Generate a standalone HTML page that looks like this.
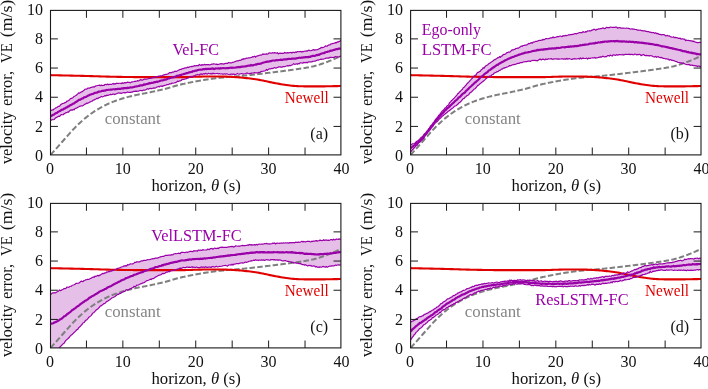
<!DOCTYPE html>
<html><head><meta charset="utf-8"><title>Velocity error vs horizon</title>
<style>html,body{margin:0;padding:0;background:#fff}svg{display:block}</style></head>
<body>
<svg width="708" height="389" viewBox="0 0 708 389">
<rect width="708" height="389" fill="#fff"/>
<defs>
<clipPath id="cpa"><rect x="50.5" y="10.4" width="290.4" height="144.5"/></clipPath>
<clipPath id="cpb"><rect x="410.6" y="10.4" width="290.4" height="144.5"/></clipPath>
<clipPath id="cpc"><rect x="50.5" y="203.4" width="290.4" height="144.5"/></clipPath>
<clipPath id="cpd"><rect x="410.6" y="203.4" width="290.4" height="144.5"/></clipPath>
</defs>
<g clip-path="url(#cpa)" fill="none" stroke-linejoin="round">
<path d="M50.50,110.45 L51.41,110.32 L52.31,109.89 L53.22,109.93 L54.13,108.95 L55.04,108.44 L55.95,107.83 L56.85,107.46 L57.76,106.76 L58.67,106.35 L59.58,106.06 L60.48,104.89 L61.39,104.35 L62.30,103.58 L63.20,103.52 L64.11,103.11 L65.02,102.60 L65.93,102.34 L66.84,101.06 L67.74,101.10 L68.65,100.55 L69.56,99.69 L70.47,98.62 L71.37,98.38 L72.28,98.14 L73.19,97.43 L74.09,96.41 L75.00,96.01 L75.91,95.55 L76.82,94.76 L77.72,93.84 L78.63,92.86 L79.54,93.17 L80.45,92.40 L81.36,91.87 L82.26,91.77 L83.17,90.81 L84.08,90.33 L84.98,89.24 L85.89,89.17 L86.80,89.19 L87.71,88.17 L88.62,88.12 L89.52,88.21 L90.43,87.60 L91.34,87.34 L92.25,87.19 L93.15,86.71 L94.06,87.17 L94.97,86.41 L95.88,85.87 L96.78,85.75 L97.69,85.52 L98.60,85.37 L99.50,85.12 L100.41,85.74 L101.32,85.05 L102.23,85.71 L103.13,85.23 L104.04,85.49 L104.95,84.53 L105.86,84.34 L106.77,84.69 L107.67,84.03 L108.58,84.64 L109.49,84.32 L110.39,84.23 L111.30,84.50 L112.21,83.99 L113.12,83.47 L114.03,84.25 L114.93,83.61 L115.84,83.83 L116.75,83.19 L117.66,83.47 L118.56,83.33 L119.47,83.24 L120.38,83.26 L121.28,83.63 L122.19,82.72 L123.10,83.41 L124.01,82.84 L124.91,82.62 L125.82,82.92 L126.73,82.52 L127.64,82.10 L128.55,82.32 L129.45,82.44 L130.36,82.89 L131.27,82.19 L132.18,81.94 L133.08,81.77 L133.99,81.75 L134.90,81.21 L135.81,81.32 L136.71,81.02 L137.62,80.62 L138.53,80.89 L139.44,80.55 L140.34,79.66 L141.25,79.85 L142.16,80.29 L143.06,79.75 L143.97,79.37 L144.88,78.99 L145.79,79.12 L146.69,79.13 L147.60,79.00 L148.51,78.42 L149.42,78.32 L150.32,78.38 L151.23,78.10 L152.14,77.97 L153.05,77.45 L153.95,77.66 L154.86,77.13 L155.77,76.82 L156.68,76.71 L157.58,76.88 L158.49,76.03 L159.40,76.38 L160.31,75.83 L161.22,75.93 L162.12,75.96 L163.03,75.14 L163.94,74.85 L164.84,74.69 L165.75,74.31 L166.66,74.30 L167.57,74.04 L168.47,73.59 L169.38,72.70 L170.29,72.72 L171.20,72.81 L172.10,72.20 L173.01,72.20 L173.92,71.89 L174.83,71.20 L175.74,71.30 L176.64,71.32 L177.55,70.78 L178.46,70.18 L179.37,69.86 L180.27,69.23 L181.18,69.50 L182.09,68.78 L183.00,68.58 L183.90,68.47 L184.81,67.91 L185.72,67.75 L186.62,67.90 L187.53,67.10 L188.44,67.54 L189.35,66.96 L190.25,66.77 L191.16,66.45 L192.07,66.59 L192.98,66.21 L193.88,66.07 L194.79,65.57 L195.70,65.94 L196.61,65.54 L197.51,65.50 L198.42,65.68 L199.33,64.42 L200.24,65.11 L201.14,65.42 L202.05,64.50 L202.96,65.14 L203.87,64.66 L204.78,64.45 L205.68,64.83 L206.59,64.72 L207.50,64.70 L208.41,64.54 L209.31,64.93 L210.22,64.77 L211.13,64.41 L212.03,64.03 L212.94,64.11 L213.85,63.74 L214.76,64.00 L215.66,64.30 L216.57,64.14 L217.48,64.64 L218.39,64.28 L219.29,64.24 L220.20,63.81 L221.11,63.65 L222.02,63.94 L222.92,63.88 L223.83,64.09 L224.74,63.61 L225.65,63.42 L226.56,63.27 L227.46,63.52 L228.37,62.61 L229.28,62.71 L230.19,62.93 L231.09,62.89 L232.00,62.65 L232.91,62.30 L233.81,62.13 L234.72,61.74 L235.63,61.39 L236.54,60.95 L237.44,60.73 L238.35,60.81 L239.26,60.38 L240.17,60.32 L241.07,60.10 L241.98,59.11 L242.89,59.53 L243.80,58.57 L244.70,59.01 L245.61,58.60 L246.52,58.14 L247.43,58.23 L248.34,57.91 L249.24,57.89 L250.15,57.75 L251.06,57.46 L251.97,57.40 L252.87,56.55 L253.78,56.87 L254.69,56.12 L255.59,57.19 L256.50,56.21 L257.41,55.84 L258.32,55.87 L259.23,55.25 L260.13,55.16 L261.04,55.20 L261.95,54.78 L262.86,53.87 L263.76,54.40 L264.67,54.18 L265.58,54.21 L266.49,53.87 L267.39,54.12 L268.30,53.67 L269.21,52.79 L270.12,53.10 L271.02,53.16 L271.93,52.97 L272.84,52.70 L273.75,53.05 L274.65,52.60 L275.56,52.88 L276.47,53.13 L277.38,52.68 L278.28,53.86 L279.19,53.34 L280.10,53.09 L281.00,53.43 L281.91,53.21 L282.82,53.34 L283.73,53.33 L284.63,52.34 L285.54,52.92 L286.45,53.08 L287.36,52.64 L288.26,53.04 L289.17,52.65 L290.08,52.73 L290.99,52.28 L291.89,53.07 L292.80,52.34 L293.71,52.42 L294.62,52.68 L295.52,51.93 L296.43,52.38 L297.34,51.55 L298.25,51.77 L299.15,51.61 L300.06,51.69 L300.97,51.36 L301.88,52.07 L302.78,51.42 L303.69,51.54 L304.60,51.19 L305.51,51.20 L306.41,50.92 L307.32,51.25 L308.23,50.38 L309.14,50.14 L310.05,50.75 L310.95,50.58 L311.86,50.35 L312.77,49.92 L313.68,49.57 L314.58,50.27 L315.49,49.89 L316.40,49.79 L317.31,49.55 L318.21,49.43 L319.12,48.56 L320.03,48.69 L320.94,47.60 L321.84,47.43 L322.75,47.65 L323.66,47.31 L324.56,46.84 L325.47,45.91 L326.38,46.21 L327.29,46.05 L328.19,45.29 L329.10,44.83 L330.01,44.79 L330.92,43.80 L331.82,43.86 L332.73,43.47 L333.64,43.52 L334.55,42.95 L335.45,42.65 L336.36,42.93 L337.27,41.86 L338.18,42.12 L339.08,41.28 L339.99,41.36 L340.90,40.01 L340.90,56.04 L339.99,56.42 L339.08,56.83 L338.18,57.00 L337.27,56.85 L336.36,56.78 L335.45,56.49 L334.55,57.28 L333.64,57.27 L332.73,57.50 L331.82,57.31 L330.92,57.66 L330.01,57.31 L329.10,58.11 L328.19,57.93 L327.29,58.27 L326.38,58.05 L325.47,58.35 L324.56,58.71 L323.66,59.04 L322.75,59.20 L321.84,59.30 L320.94,59.14 L320.03,59.45 L319.12,59.81 L318.21,60.18 L317.31,60.16 L316.40,60.48 L315.49,61.10 L314.58,61.13 L313.68,61.25 L312.77,61.30 L311.86,61.92 L310.95,61.75 L310.05,61.84 L309.14,61.79 L308.23,62.09 L307.32,62.83 L306.41,62.30 L305.51,62.56 L304.60,62.64 L303.69,62.36 L302.78,63.21 L301.88,62.97 L300.97,62.84 L300.06,62.94 L299.15,63.92 L298.25,63.51 L297.34,64.29 L296.43,63.79 L295.52,64.12 L294.62,64.37 L293.71,63.68 L292.80,64.39 L291.89,65.05 L290.99,65.34 L290.08,65.75 L289.17,65.43 L288.26,66.06 L287.36,65.65 L286.45,66.03 L285.54,66.27 L284.63,66.76 L283.73,66.47 L282.82,66.66 L281.91,67.19 L281.00,67.20 L280.10,66.94 L279.19,66.88 L278.28,67.11 L277.38,67.49 L276.47,67.91 L275.56,68.11 L274.65,67.55 L273.75,67.97 L272.84,68.62 L271.93,68.27 L271.02,68.79 L270.12,68.89 L269.21,68.95 L268.30,69.38 L267.39,70.33 L266.49,69.44 L265.58,70.53 L264.67,71.01 L263.76,71.10 L262.86,71.25 L261.95,71.35 L261.04,71.47 L260.13,72.44 L259.23,72.42 L258.32,72.61 L257.41,72.95 L256.50,72.96 L255.59,72.84 L254.69,72.53 L253.78,72.96 L252.87,73.00 L251.97,73.09 L251.06,73.39 L250.15,73.41 L249.24,73.62 L248.34,73.74 L247.43,72.99 L246.52,73.19 L245.61,73.59 L244.70,73.73 L243.80,74.04 L242.89,73.97 L241.98,73.63 L241.07,73.74 L240.17,73.81 L239.26,74.31 L238.35,73.93 L237.44,73.45 L236.54,74.08 L235.63,74.50 L234.72,74.67 L233.81,73.89 L232.91,74.44 L232.00,74.20 L231.09,74.13 L230.19,74.40 L229.28,74.74 L228.37,74.46 L227.46,74.01 L226.56,73.77 L225.65,74.11 L224.74,73.74 L223.83,74.20 L222.92,74.20 L222.02,73.93 L221.11,74.01 L220.20,73.85 L219.29,73.49 L218.39,73.92 L217.48,73.40 L216.57,73.50 L215.66,73.73 L214.76,73.52 L213.85,73.84 L212.94,73.08 L212.03,74.18 L211.13,73.38 L210.22,73.84 L209.31,73.59 L208.41,73.30 L207.50,74.04 L206.59,73.87 L205.68,73.30 L204.78,74.18 L203.87,73.58 L202.96,73.96 L202.05,74.52 L201.14,73.85 L200.24,74.05 L199.33,75.00 L198.42,74.75 L197.51,74.63 L196.61,74.91 L195.70,75.06 L194.79,75.84 L193.88,75.87 L192.98,76.54 L192.07,76.49 L191.16,76.61 L190.25,76.89 L189.35,77.28 L188.44,77.96 L187.53,78.28 L186.62,78.56 L185.72,78.90 L184.81,78.98 L183.90,79.49 L183.00,79.38 L182.09,79.54 L181.18,80.48 L180.27,80.96 L179.37,80.97 L178.46,81.56 L177.55,81.08 L176.64,82.10 L175.74,82.67 L174.83,82.71 L173.92,83.03 L173.01,83.26 L172.10,83.05 L171.20,83.81 L170.29,83.89 L169.38,83.94 L168.47,84.56 L167.57,84.66 L166.66,84.63 L165.75,85.24 L164.84,85.30 L163.94,85.78 L163.03,85.69 L162.12,86.52 L161.22,86.16 L160.31,86.02 L159.40,86.87 L158.49,86.45 L157.58,86.81 L156.68,87.07 L155.77,87.67 L154.86,88.22 L153.95,87.89 L153.05,88.14 L152.14,88.32 L151.23,88.83 L150.32,88.33 L149.42,88.56 L148.51,89.17 L147.60,88.72 L146.69,89.11 L145.79,89.79 L144.88,90.18 L143.97,90.13 L143.06,90.18 L142.16,90.82 L141.25,90.47 L140.34,90.28 L139.44,90.80 L138.53,91.09 L137.62,91.03 L136.71,91.43 L135.81,91.10 L134.90,91.38 L133.99,91.42 L133.08,91.61 L132.18,92.16 L131.27,92.19 L130.36,92.39 L129.45,92.45 L128.55,92.31 L127.64,91.94 L126.73,92.33 L125.82,92.59 L124.91,93.00 L124.01,92.47 L123.10,92.70 L122.19,92.99 L121.28,93.39 L120.38,93.18 L119.47,93.11 L118.56,92.82 L117.66,93.20 L116.75,93.60 L115.84,93.86 L114.93,94.63 L114.03,94.05 L113.12,94.11 L112.21,94.37 L111.30,94.55 L110.39,94.41 L109.49,94.78 L108.58,95.17 L107.67,95.39 L106.77,95.18 L105.86,95.97 L104.95,95.58 L104.04,96.19 L103.13,96.56 L102.23,96.81 L101.32,96.46 L100.41,97.08 L99.50,97.64 L98.60,97.76 L97.69,98.72 L96.78,98.30 L95.88,99.18 L94.97,99.28 L94.06,100.14 L93.15,100.08 L92.25,101.09 L91.34,101.22 L90.43,101.86 L89.52,102.15 L88.62,102.71 L87.71,103.30 L86.80,103.03 L85.89,103.86 L84.98,104.17 L84.08,104.79 L83.17,105.38 L82.26,106.00 L81.36,105.76 L80.45,106.18 L79.54,106.34 L78.63,106.96 L77.72,107.29 L76.82,108.08 L75.91,108.20 L75.00,108.50 L74.09,109.85 L73.19,109.31 L72.28,110.25 L71.37,109.85 L70.47,110.18 L69.56,110.82 L68.65,112.14 L67.74,111.90 L66.84,112.62 L65.93,112.68 L65.02,113.38 L64.11,113.76 L63.20,114.73 L62.30,114.77 L61.39,114.49 L60.48,115.44 L59.58,116.42 L58.67,116.19 L57.76,116.70 L56.85,117.38 L55.95,117.62 L55.04,118.46 L54.13,119.51 L53.22,119.72 L52.31,119.56 L51.41,120.07 L50.50,120.71Z" fill="#9a00a8" fill-opacity="0.25" stroke="none"/>
<path d="M50.50,154.88 L51.30,154.01 L52.17,153.07 L53.04,152.11 L53.91,151.16 L54.35,150.68M56.02,148.82 L56.89,147.84 L57.76,146.86 L58.63,145.88 L59.50,144.89 L59.80,144.55M61.45,142.67 L62.26,141.74 L63.14,140.75 L64.01,139.75 L64.88,138.76 L65.21,138.39M66.86,136.51 L67.71,135.54 L68.58,134.56 L69.45,133.59 L70.32,132.62 L70.66,132.26M72.35,130.42 L73.16,129.56 L74.03,128.64 L74.90,127.74 L75.77,126.85 L76.30,126.31M78.08,124.56 L78.89,123.79 L79.77,122.96 L80.64,122.16 L81.51,121.37 L82.27,120.70M84.15,119.07 L84.99,118.36 L85.87,117.65 L86.74,116.95 L87.61,116.27 L88.48,115.59 L88.58,115.51M90.56,114.04 L91.38,113.45 L92.26,112.83 L93.13,112.24 L94.00,111.65 L94.87,111.08 L95.23,110.84M97.29,109.55 L98.14,109.04 L99.01,108.53 L99.88,108.03 L100.75,107.54 L101.62,107.06 L102.19,106.76M104.34,105.66 L105.18,105.24 L106.05,104.82 L106.92,104.41 L107.80,104.01 L108.67,103.61 L109.43,103.28M111.62,102.35 L112.44,102.02 L113.31,101.67 L114.19,101.34 L115.06,101.01 L115.93,100.69 L116.80,100.38 L116.85,100.37M119.08,99.61 L119.92,99.33 L120.79,99.06 L121.67,98.78 L122.54,98.52 L123.41,98.26 L124.28,98.00 L124.41,97.96M126.64,97.33 L127.48,97.10 L128.35,96.87 L129.22,96.64 L130.09,96.42 L130.96,96.20 L131.83,95.99 L132.04,95.94M134.28,95.42 L135.10,95.25 L135.97,95.06 L136.84,94.88 L137.71,94.70 L138.59,94.52 L139.46,94.35 L139.72,94.30M141.96,93.87 L142.80,93.71 L143.67,93.54 L144.54,93.38 L145.41,93.21 L146.28,93.04 L147.15,92.87 L147.41,92.82M149.64,92.37 L150.50,92.20 L151.37,92.01 L152.24,91.83 L153.11,91.64 L153.98,91.46 L154.85,91.27 L155.07,91.22M157.29,90.72 L158.12,90.53 L158.99,90.34 L159.86,90.13 L160.73,89.93 L161.61,89.72 L162.48,89.51 L162.70,89.46M164.92,88.91 L165.75,88.69 L166.62,88.47 L167.49,88.23 L168.36,87.99 L169.23,87.75 L170.10,87.50 L170.29,87.45M172.49,86.81 L173.30,86.58 L174.17,86.32 L175.04,86.07 L175.91,85.82 L176.78,85.57 L177.65,85.33 L177.85,85.28M180.09,84.69 L180.92,84.48 L181.79,84.27 L182.67,84.06 L183.54,83.86 L184.41,83.67 L185.28,83.48 L185.50,83.43M187.75,82.96 L188.62,82.79 L189.49,82.61 L190.36,82.44 L191.23,82.27 L192.11,82.11 L192.98,81.94 L193.20,81.90M195.44,81.49 L196.24,81.34 L197.12,81.19 L197.99,81.03 L198.86,80.88 L199.73,80.72 L200.60,80.57 L200.90,80.52M203.13,80.13 L203.94,79.99 L204.81,79.85 L205.68,79.70 L206.56,79.56 L207.43,79.42 L208.30,79.28 L208.60,79.23M210.84,78.90 L211.71,78.77 L212.58,78.65 L213.46,78.53 L214.33,78.42 L215.20,78.31 L216.07,78.20 L216.33,78.17M218.57,77.92 L219.41,77.83 L220.28,77.74 L221.15,77.65 L222.02,77.57 L222.90,77.49 L223.77,77.41 L224.07,77.38M226.31,77.18 L227.11,77.12 L227.98,77.04 L228.85,76.97 L229.72,76.90 L230.59,76.83 L231.46,76.76 L231.81,76.73M234.03,76.55 L234.88,76.48 L235.75,76.41 L236.62,76.34 L237.49,76.26 L238.36,76.19 L239.23,76.11 L239.54,76.08M241.76,75.88 L242.58,75.80 L243.45,75.72 L244.32,75.63 L245.19,75.54 L246.06,75.45 L246.93,75.36 L247.25,75.33M249.48,75.09 L250.35,75.00 L251.22,74.90 L252.09,74.80 L252.96,74.71 L253.83,74.61 L254.70,74.51 L254.97,74.48M257.20,74.22 L258.04,74.12 L258.91,74.02 L259.79,73.92 L260.66,73.82 L261.53,73.71 L262.40,73.61 L262.69,73.57M264.92,73.30 L265.74,73.20 L266.61,73.10 L267.48,72.99 L268.35,72.88 L269.23,72.78 L270.10,72.67 L270.41,72.63M272.64,72.36 L273.44,72.26 L274.31,72.15 L275.18,72.04 L276.05,71.93 L276.92,71.83 L277.79,71.72 L278.12,71.68M280.35,71.39 L281.21,71.29 L282.08,71.18 L282.95,71.06 L283.82,70.95 L284.69,70.84 L285.56,70.73 L285.84,70.69M288.07,70.39 L288.91,70.28 L289.78,70.16 L290.65,70.04 L291.52,69.92 L292.39,69.80 L293.26,69.68 L293.55,69.64M295.78,69.32 L296.60,69.20 L297.47,69.07 L298.35,68.95 L299.22,68.82 L300.09,68.68 L300.96,68.55 L301.26,68.51M303.48,68.16 L304.30,68.03 L305.17,67.89 L306.04,67.75 L306.91,67.60 L307.79,67.44 L308.66,67.29 L308.95,67.23M311.16,66.80 L312.00,66.62 L312.87,66.42 L313.74,66.23 L314.61,66.01 L315.48,65.79 L316.36,65.55 L316.56,65.49M318.74,64.86 L319.55,64.60 L320.42,64.32 L321.29,64.03 L322.16,63.74 L323.04,63.43 L323.91,63.12 L324.03,63.08M326.20,62.28 L327.03,61.96 L327.90,61.63 L328.77,61.28 L329.64,60.94 L330.52,60.58 L331.39,60.22 L331.39,60.22M333.54,59.30 L334.36,58.94 L335.24,58.55 L336.11,58.16 L336.98,57.76 L337.85,57.35 L338.64,56.98M340.77,55.97 L340.90,55.90" stroke="#7f7f7f" stroke-width="2.0"/>
<path d="M50.50,75.14 L52.31,75.18 L54.13,75.22 L55.95,75.26 L57.76,75.30 L59.58,75.34 L61.39,75.38 L63.20,75.43 L65.02,75.47 L66.84,75.51 L68.65,75.56 L70.47,75.60 L72.28,75.64 L74.09,75.69 L75.91,75.73 L77.72,75.78 L79.54,75.82 L81.36,75.87 L83.17,75.91 L84.98,75.96 L86.80,76.01 L88.62,76.05 L90.43,76.11 L92.25,76.16 L94.06,76.21 L95.88,76.27 L97.69,76.32 L99.50,76.38 L101.32,76.43 L103.13,76.49 L104.95,76.54 L106.77,76.59 L108.58,76.64 L110.39,76.69 L112.21,76.74 L114.03,76.78 L115.84,76.81 L117.66,76.85 L119.47,76.88 L121.28,76.91 L123.10,76.93 L124.91,76.96 L126.73,76.98 L128.55,77.01 L130.36,77.03 L132.18,77.05 L133.99,77.08 L135.81,77.09 L137.62,77.11 L139.44,77.12 L141.25,77.14 L143.06,77.14 L144.88,77.15 L146.69,77.16 L148.51,77.16 L150.32,77.16 L152.14,77.16 L153.95,77.16 L155.77,77.16 L157.58,77.16 L159.40,77.16 L161.22,77.16 L163.03,77.16 L164.84,77.16 L166.66,77.16 L168.47,77.16 L170.29,77.16 L172.10,77.16 L173.92,77.16 L175.74,77.16 L177.55,77.16 L179.37,77.15 L181.18,77.14 L183.00,77.12 L184.81,77.09 L186.62,77.05 L188.44,77.00 L190.25,76.95 L192.07,76.89 L193.88,76.82 L195.70,76.76 L197.51,76.70 L199.33,76.64 L201.14,76.58 L202.96,76.54 L204.78,76.50 L206.59,76.47 L208.41,76.46 L210.22,76.45 L212.03,76.46 L213.85,76.47 L215.66,76.48 L217.48,76.50 L219.29,76.52 L221.11,76.55 L222.92,76.58 L224.74,76.62 L226.56,76.66 L228.37,76.71 L230.19,76.78 L232.00,76.86 L233.81,76.97 L235.63,77.10 L237.44,77.24 L239.26,77.40 L241.07,77.57 L242.89,77.74 L244.70,77.93 L246.52,78.12 L248.34,78.31 L250.15,78.52 L251.97,78.75 L253.78,78.99 L255.59,79.25 L257.41,79.54 L259.23,79.85 L261.04,80.19 L262.86,80.56 L264.67,80.94 L266.49,81.34 L268.30,81.73 L270.12,82.11 L271.93,82.49 L273.75,82.85 L275.56,83.21 L277.38,83.56 L279.19,83.89 L281.00,84.20 L282.82,84.50 L284.63,84.77 L286.45,85.02 L288.26,85.26 L290.08,85.47 L291.89,85.67 L293.71,85.85 L295.52,85.99 L297.34,86.11 L299.15,86.20 L300.97,86.26 L302.78,86.30 L304.60,86.33 L306.41,86.35 L308.23,86.37 L310.05,86.39 L311.86,86.39 L313.68,86.40 L315.49,86.40 L317.31,86.39 L319.12,86.38 L320.94,86.37 L322.75,86.36 L324.56,86.33 L326.38,86.31 L328.19,86.28 L330.01,86.25 L331.82,86.21 L333.64,86.17 L335.45,86.13 L337.27,86.08 L339.08,86.03 L340.90,85.97" stroke="#e10000" stroke-width="2.1"/>
<path d="M50.50,110.45 L51.41,110.32 L52.31,109.89 L53.22,109.93 L54.13,108.95 L55.04,108.44 L55.95,107.83 L56.85,107.46 L57.76,106.76 L58.67,106.35 L59.58,106.06 L60.48,104.89 L61.39,104.35 L62.30,103.58 L63.20,103.52 L64.11,103.11 L65.02,102.60 L65.93,102.34 L66.84,101.06 L67.74,101.10 L68.65,100.55 L69.56,99.69 L70.47,98.62 L71.37,98.38 L72.28,98.14 L73.19,97.43 L74.09,96.41 L75.00,96.01 L75.91,95.55 L76.82,94.76 L77.72,93.84 L78.63,92.86 L79.54,93.17 L80.45,92.40 L81.36,91.87 L82.26,91.77 L83.17,90.81 L84.08,90.33 L84.98,89.24 L85.89,89.17 L86.80,89.19 L87.71,88.17 L88.62,88.12 L89.52,88.21 L90.43,87.60 L91.34,87.34 L92.25,87.19 L93.15,86.71 L94.06,87.17 L94.97,86.41 L95.88,85.87 L96.78,85.75 L97.69,85.52 L98.60,85.37 L99.50,85.12 L100.41,85.74 L101.32,85.05 L102.23,85.71 L103.13,85.23 L104.04,85.49 L104.95,84.53 L105.86,84.34 L106.77,84.69 L107.67,84.03 L108.58,84.64 L109.49,84.32 L110.39,84.23 L111.30,84.50 L112.21,83.99 L113.12,83.47 L114.03,84.25 L114.93,83.61 L115.84,83.83 L116.75,83.19 L117.66,83.47 L118.56,83.33 L119.47,83.24 L120.38,83.26 L121.28,83.63 L122.19,82.72 L123.10,83.41 L124.01,82.84 L124.91,82.62 L125.82,82.92 L126.73,82.52 L127.64,82.10 L128.55,82.32 L129.45,82.44 L130.36,82.89 L131.27,82.19 L132.18,81.94 L133.08,81.77 L133.99,81.75 L134.90,81.21 L135.81,81.32 L136.71,81.02 L137.62,80.62 L138.53,80.89 L139.44,80.55 L140.34,79.66 L141.25,79.85 L142.16,80.29 L143.06,79.75 L143.97,79.37 L144.88,78.99 L145.79,79.12 L146.69,79.13 L147.60,79.00 L148.51,78.42 L149.42,78.32 L150.32,78.38 L151.23,78.10 L152.14,77.97 L153.05,77.45 L153.95,77.66 L154.86,77.13 L155.77,76.82 L156.68,76.71 L157.58,76.88 L158.49,76.03 L159.40,76.38 L160.31,75.83 L161.22,75.93 L162.12,75.96 L163.03,75.14 L163.94,74.85 L164.84,74.69 L165.75,74.31 L166.66,74.30 L167.57,74.04 L168.47,73.59 L169.38,72.70 L170.29,72.72 L171.20,72.81 L172.10,72.20 L173.01,72.20 L173.92,71.89 L174.83,71.20 L175.74,71.30 L176.64,71.32 L177.55,70.78 L178.46,70.18 L179.37,69.86 L180.27,69.23 L181.18,69.50 L182.09,68.78 L183.00,68.58 L183.90,68.47 L184.81,67.91 L185.72,67.75 L186.62,67.90 L187.53,67.10 L188.44,67.54 L189.35,66.96 L190.25,66.77 L191.16,66.45 L192.07,66.59 L192.98,66.21 L193.88,66.07 L194.79,65.57 L195.70,65.94 L196.61,65.54 L197.51,65.50 L198.42,65.68 L199.33,64.42 L200.24,65.11 L201.14,65.42 L202.05,64.50 L202.96,65.14 L203.87,64.66 L204.78,64.45 L205.68,64.83 L206.59,64.72 L207.50,64.70 L208.41,64.54 L209.31,64.93 L210.22,64.77 L211.13,64.41 L212.03,64.03 L212.94,64.11 L213.85,63.74 L214.76,64.00 L215.66,64.30 L216.57,64.14 L217.48,64.64 L218.39,64.28 L219.29,64.24 L220.20,63.81 L221.11,63.65 L222.02,63.94 L222.92,63.88 L223.83,64.09 L224.74,63.61 L225.65,63.42 L226.56,63.27 L227.46,63.52 L228.37,62.61 L229.28,62.71 L230.19,62.93 L231.09,62.89 L232.00,62.65 L232.91,62.30 L233.81,62.13 L234.72,61.74 L235.63,61.39 L236.54,60.95 L237.44,60.73 L238.35,60.81 L239.26,60.38 L240.17,60.32 L241.07,60.10 L241.98,59.11 L242.89,59.53 L243.80,58.57 L244.70,59.01 L245.61,58.60 L246.52,58.14 L247.43,58.23 L248.34,57.91 L249.24,57.89 L250.15,57.75 L251.06,57.46 L251.97,57.40 L252.87,56.55 L253.78,56.87 L254.69,56.12 L255.59,57.19 L256.50,56.21 L257.41,55.84 L258.32,55.87 L259.23,55.25 L260.13,55.16 L261.04,55.20 L261.95,54.78 L262.86,53.87 L263.76,54.40 L264.67,54.18 L265.58,54.21 L266.49,53.87 L267.39,54.12 L268.30,53.67 L269.21,52.79 L270.12,53.10 L271.02,53.16 L271.93,52.97 L272.84,52.70 L273.75,53.05 L274.65,52.60 L275.56,52.88 L276.47,53.13 L277.38,52.68 L278.28,53.86 L279.19,53.34 L280.10,53.09 L281.00,53.43 L281.91,53.21 L282.82,53.34 L283.73,53.33 L284.63,52.34 L285.54,52.92 L286.45,53.08 L287.36,52.64 L288.26,53.04 L289.17,52.65 L290.08,52.73 L290.99,52.28 L291.89,53.07 L292.80,52.34 L293.71,52.42 L294.62,52.68 L295.52,51.93 L296.43,52.38 L297.34,51.55 L298.25,51.77 L299.15,51.61 L300.06,51.69 L300.97,51.36 L301.88,52.07 L302.78,51.42 L303.69,51.54 L304.60,51.19 L305.51,51.20 L306.41,50.92 L307.32,51.25 L308.23,50.38 L309.14,50.14 L310.05,50.75 L310.95,50.58 L311.86,50.35 L312.77,49.92 L313.68,49.57 L314.58,50.27 L315.49,49.89 L316.40,49.79 L317.31,49.55 L318.21,49.43 L319.12,48.56 L320.03,48.69 L320.94,47.60 L321.84,47.43 L322.75,47.65 L323.66,47.31 L324.56,46.84 L325.47,45.91 L326.38,46.21 L327.29,46.05 L328.19,45.29 L329.10,44.83 L330.01,44.79 L330.92,43.80 L331.82,43.86 L332.73,43.47 L333.64,43.52 L334.55,42.95 L335.45,42.65 L336.36,42.93 L337.27,41.86 L338.18,42.12 L339.08,41.28 L339.99,41.36 L340.90,40.01" stroke="#9a00a8" stroke-width="1.2"/>
<path d="M50.50,120.71 L51.41,120.07 L52.31,119.56 L53.22,119.72 L54.13,119.51 L55.04,118.46 L55.95,117.62 L56.85,117.38 L57.76,116.70 L58.67,116.19 L59.58,116.42 L60.48,115.44 L61.39,114.49 L62.30,114.77 L63.20,114.73 L64.11,113.76 L65.02,113.38 L65.93,112.68 L66.84,112.62 L67.74,111.90 L68.65,112.14 L69.56,110.82 L70.47,110.18 L71.37,109.85 L72.28,110.25 L73.19,109.31 L74.09,109.85 L75.00,108.50 L75.91,108.20 L76.82,108.08 L77.72,107.29 L78.63,106.96 L79.54,106.34 L80.45,106.18 L81.36,105.76 L82.26,106.00 L83.17,105.38 L84.08,104.79 L84.98,104.17 L85.89,103.86 L86.80,103.03 L87.71,103.30 L88.62,102.71 L89.52,102.15 L90.43,101.86 L91.34,101.22 L92.25,101.09 L93.15,100.08 L94.06,100.14 L94.97,99.28 L95.88,99.18 L96.78,98.30 L97.69,98.72 L98.60,97.76 L99.50,97.64 L100.41,97.08 L101.32,96.46 L102.23,96.81 L103.13,96.56 L104.04,96.19 L104.95,95.58 L105.86,95.97 L106.77,95.18 L107.67,95.39 L108.58,95.17 L109.49,94.78 L110.39,94.41 L111.30,94.55 L112.21,94.37 L113.12,94.11 L114.03,94.05 L114.93,94.63 L115.84,93.86 L116.75,93.60 L117.66,93.20 L118.56,92.82 L119.47,93.11 L120.38,93.18 L121.28,93.39 L122.19,92.99 L123.10,92.70 L124.01,92.47 L124.91,93.00 L125.82,92.59 L126.73,92.33 L127.64,91.94 L128.55,92.31 L129.45,92.45 L130.36,92.39 L131.27,92.19 L132.18,92.16 L133.08,91.61 L133.99,91.42 L134.90,91.38 L135.81,91.10 L136.71,91.43 L137.62,91.03 L138.53,91.09 L139.44,90.80 L140.34,90.28 L141.25,90.47 L142.16,90.82 L143.06,90.18 L143.97,90.13 L144.88,90.18 L145.79,89.79 L146.69,89.11 L147.60,88.72 L148.51,89.17 L149.42,88.56 L150.32,88.33 L151.23,88.83 L152.14,88.32 L153.05,88.14 L153.95,87.89 L154.86,88.22 L155.77,87.67 L156.68,87.07 L157.58,86.81 L158.49,86.45 L159.40,86.87 L160.31,86.02 L161.22,86.16 L162.12,86.52 L163.03,85.69 L163.94,85.78 L164.84,85.30 L165.75,85.24 L166.66,84.63 L167.57,84.66 L168.47,84.56 L169.38,83.94 L170.29,83.89 L171.20,83.81 L172.10,83.05 L173.01,83.26 L173.92,83.03 L174.83,82.71 L175.74,82.67 L176.64,82.10 L177.55,81.08 L178.46,81.56 L179.37,80.97 L180.27,80.96 L181.18,80.48 L182.09,79.54 L183.00,79.38 L183.90,79.49 L184.81,78.98 L185.72,78.90 L186.62,78.56 L187.53,78.28 L188.44,77.96 L189.35,77.28 L190.25,76.89 L191.16,76.61 L192.07,76.49 L192.98,76.54 L193.88,75.87 L194.79,75.84 L195.70,75.06 L196.61,74.91 L197.51,74.63 L198.42,74.75 L199.33,75.00 L200.24,74.05 L201.14,73.85 L202.05,74.52 L202.96,73.96 L203.87,73.58 L204.78,74.18 L205.68,73.30 L206.59,73.87 L207.50,74.04 L208.41,73.30 L209.31,73.59 L210.22,73.84 L211.13,73.38 L212.03,74.18 L212.94,73.08 L213.85,73.84 L214.76,73.52 L215.66,73.73 L216.57,73.50 L217.48,73.40 L218.39,73.92 L219.29,73.49 L220.20,73.85 L221.11,74.01 L222.02,73.93 L222.92,74.20 L223.83,74.20 L224.74,73.74 L225.65,74.11 L226.56,73.77 L227.46,74.01 L228.37,74.46 L229.28,74.74 L230.19,74.40 L231.09,74.13 L232.00,74.20 L232.91,74.44 L233.81,73.89 L234.72,74.67 L235.63,74.50 L236.54,74.08 L237.44,73.45 L238.35,73.93 L239.26,74.31 L240.17,73.81 L241.07,73.74 L241.98,73.63 L242.89,73.97 L243.80,74.04 L244.70,73.73 L245.61,73.59 L246.52,73.19 L247.43,72.99 L248.34,73.74 L249.24,73.62 L250.15,73.41 L251.06,73.39 L251.97,73.09 L252.87,73.00 L253.78,72.96 L254.69,72.53 L255.59,72.84 L256.50,72.96 L257.41,72.95 L258.32,72.61 L259.23,72.42 L260.13,72.44 L261.04,71.47 L261.95,71.35 L262.86,71.25 L263.76,71.10 L264.67,71.01 L265.58,70.53 L266.49,69.44 L267.39,70.33 L268.30,69.38 L269.21,68.95 L270.12,68.89 L271.02,68.79 L271.93,68.27 L272.84,68.62 L273.75,67.97 L274.65,67.55 L275.56,68.11 L276.47,67.91 L277.38,67.49 L278.28,67.11 L279.19,66.88 L280.10,66.94 L281.00,67.20 L281.91,67.19 L282.82,66.66 L283.73,66.47 L284.63,66.76 L285.54,66.27 L286.45,66.03 L287.36,65.65 L288.26,66.06 L289.17,65.43 L290.08,65.75 L290.99,65.34 L291.89,65.05 L292.80,64.39 L293.71,63.68 L294.62,64.37 L295.52,64.12 L296.43,63.79 L297.34,64.29 L298.25,63.51 L299.15,63.92 L300.06,62.94 L300.97,62.84 L301.88,62.97 L302.78,63.21 L303.69,62.36 L304.60,62.64 L305.51,62.56 L306.41,62.30 L307.32,62.83 L308.23,62.09 L309.14,61.79 L310.05,61.84 L310.95,61.75 L311.86,61.92 L312.77,61.30 L313.68,61.25 L314.58,61.13 L315.49,61.10 L316.40,60.48 L317.31,60.16 L318.21,60.18 L319.12,59.81 L320.03,59.45 L320.94,59.14 L321.84,59.30 L322.75,59.20 L323.66,59.04 L324.56,58.71 L325.47,58.35 L326.38,58.05 L327.29,58.27 L328.19,57.93 L329.10,58.11 L330.01,57.31 L330.92,57.66 L331.82,57.31 L332.73,57.50 L333.64,57.27 L334.55,57.28 L335.45,56.49 L336.36,56.78 L337.27,56.85 L338.18,57.00 L339.08,56.83 L339.99,56.42 L340.90,56.04" stroke="#9a00a8" stroke-width="1.2"/>
<path d="M50.50,116.40 L51.41,115.83 L52.31,115.22 L53.22,114.80 L54.13,114.47 L55.04,113.71 L55.95,113.10 L56.85,112.98 L57.76,112.20 L58.67,111.59 L59.58,111.09 L60.48,110.82 L61.39,109.89 L62.30,109.68 L63.20,109.40 L64.11,108.62 L65.02,108.46 L65.93,107.64 L66.84,107.49 L67.74,106.66 L68.65,106.37 L69.56,105.59 L70.47,105.14 L71.37,104.68 L72.28,104.22 L73.19,103.53 L74.09,103.46 L75.00,102.58 L75.91,102.05 L76.82,101.50 L77.72,100.93 L78.63,99.95 L79.54,100.00 L80.45,99.38 L81.36,98.98 L82.26,98.26 L83.17,98.35 L84.08,97.29 L84.98,97.21 L85.89,97.02 L86.80,96.41 L87.71,95.85 L88.62,95.40 L89.52,95.05 L90.43,94.55 L91.34,94.32 L92.25,93.98 L93.15,93.97 L94.06,93.23 L94.97,92.83 L95.88,92.75 L96.78,92.69 L97.69,92.32 L98.60,91.58 L99.50,91.68 L100.41,91.46 L101.32,91.26 L102.23,90.81 L103.13,90.82 L104.04,90.69 L104.95,90.64 L105.86,90.27 L106.77,89.96 L107.67,90.02 L108.58,89.74 L109.49,89.75 L110.39,89.65 L111.30,89.56 L112.21,89.49 L113.12,89.24 L114.03,89.24 L114.93,89.33 L115.84,89.13 L116.75,89.07 L117.66,88.89 L118.56,88.85 L119.47,88.72 L120.38,88.93 L121.28,88.54 L122.19,88.29 L123.10,88.62 L124.01,88.05 L124.91,88.15 L125.82,88.12 L126.73,88.27 L127.64,87.70 L128.55,87.91 L129.45,87.71 L130.36,87.42 L131.27,87.53 L132.18,87.38 L133.08,87.26 L133.99,86.93 L134.90,86.65 L135.81,86.51 L136.71,86.32 L137.62,86.24 L138.53,85.96 L139.44,85.88 L140.34,85.24 L141.25,85.31 L142.16,85.44 L143.06,85.08 L143.97,84.43 L144.88,84.69 L145.79,84.33 L146.69,83.98 L147.60,84.01 L148.51,83.46 L149.42,83.16 L150.32,83.36 L151.23,82.84 L152.14,82.96 L153.05,82.78 L153.95,82.38 L154.86,82.17 L155.77,82.09 L156.68,81.65 L157.58,81.80 L158.49,81.48 L159.40,81.29 L160.31,80.77 L161.22,80.53 L162.12,80.31 L163.03,80.37 L163.94,79.89 L164.84,79.59 L165.75,79.66 L166.66,79.27 L167.57,78.78 L168.47,78.50 L169.38,78.31 L170.29,77.99 L171.20,77.76 L172.10,77.52 L173.01,77.29 L173.92,77.14 L174.83,76.77 L175.74,76.52 L176.64,75.82 L177.55,75.87 L178.46,75.64 L179.37,75.41 L180.27,75.12 L181.18,74.87 L182.09,74.47 L183.00,74.29 L183.90,73.89 L184.81,73.86 L185.72,73.42 L186.62,73.07 L187.53,73.13 L188.44,72.65 L189.35,72.37 L190.25,72.20 L191.16,71.95 L192.07,71.91 L192.98,71.17 L193.88,71.25 L194.79,71.05 L195.70,70.52 L196.61,70.69 L197.51,70.04 L198.42,69.94 L199.33,69.74 L200.24,69.71 L201.14,69.74 L202.05,69.72 L202.96,69.08 L203.87,69.29 L204.78,69.21 L205.68,68.80 L206.59,69.08 L207.50,68.96 L208.41,68.90 L209.31,68.83 L210.22,68.92 L211.13,68.80 L212.03,68.46 L212.94,68.50 L213.85,69.06 L214.76,68.86 L215.66,68.46 L216.57,68.50 L217.48,68.50 L218.39,68.25 L219.29,68.67 L220.20,68.17 L221.11,68.31 L222.02,68.22 L222.92,68.24 L223.83,68.12 L224.74,68.26 L225.65,68.28 L226.56,68.03 L227.46,68.09 L228.37,68.27 L229.28,67.81 L230.19,67.78 L231.09,67.68 L232.00,67.83 L232.91,67.71 L233.81,67.74 L234.72,67.74 L235.63,67.48 L236.54,67.36 L237.44,67.38 L238.35,66.87 L239.26,67.31 L240.17,67.06 L241.07,66.92 L241.98,66.48 L242.89,66.60 L243.80,66.49 L244.70,66.45 L245.61,66.31 L246.52,66.26 L247.43,65.76 L248.34,65.69 L249.24,65.50 L250.15,65.62 L251.06,64.97 L251.97,65.38 L252.87,65.40 L253.78,64.96 L254.69,64.73 L255.59,64.45 L256.50,64.56 L257.41,64.11 L258.32,63.73 L259.23,63.93 L260.13,63.70 L261.04,63.62 L261.95,63.08 L262.86,62.75 L263.76,62.52 L264.67,62.27 L265.58,61.95 L266.49,61.93 L267.39,61.58 L268.30,61.68 L269.21,61.46 L270.12,61.12 L271.02,61.12 L271.93,60.75 L272.84,60.49 L273.75,60.51 L274.65,60.58 L275.56,60.47 L276.47,60.04 L277.38,60.29 L278.28,60.06 L279.19,60.02 L280.10,59.89 L281.00,59.64 L281.91,59.82 L282.82,59.87 L283.73,59.33 L284.63,59.44 L285.54,59.28 L286.45,59.31 L287.36,59.09 L288.26,58.92 L289.17,58.82 L290.08,58.99 L290.99,58.91 L291.89,58.69 L292.80,58.63 L293.71,58.48 L294.62,58.58 L295.52,58.74 L296.43,58.21 L297.34,58.05 L298.25,57.98 L299.15,57.71 L300.06,57.74 L300.97,57.83 L301.88,57.51 L302.78,57.58 L303.69,57.26 L304.60,57.31 L305.51,57.16 L306.41,57.08 L307.32,56.99 L308.23,57.11 L309.14,56.73 L310.05,56.97 L310.95,56.38 L311.86,56.14 L312.77,55.79 L313.68,55.87 L314.58,55.84 L315.49,55.76 L316.40,54.96 L317.31,55.25 L318.21,54.61 L319.12,54.84 L320.03,54.19 L320.94,53.78 L321.84,53.54 L322.75,53.29 L323.66,53.11 L324.56,52.83 L325.47,52.23 L326.38,52.04 L327.29,51.85 L328.19,51.53 L329.10,51.44 L330.01,50.88 L330.92,50.60 L331.82,50.68 L332.73,50.31 L333.64,49.93 L334.55,49.97 L335.45,49.33 L336.36,49.20 L337.27,49.27 L338.18,48.87 L339.08,48.55 L339.99,48.81 L340.90,48.32" stroke="#9a00a8" stroke-width="2.2"/>
</g>
<path d="M86.44,154.90v-7.4M86.44,10.40v7.4M122.87,154.90v-7.4M122.87,10.40v7.4M159.31,154.90v-7.4M159.31,10.40v7.4M195.74,154.90v-7.4M195.74,10.40v7.4M232.18,154.90v-7.4M232.18,10.40v7.4M268.61,154.90v-7.4M268.61,10.40v7.4M305.04,154.90v-7.4M305.04,10.40v7.4M50.50,126.42h7.4M340.90,126.42h-7.4M50.50,97.24h7.4M340.90,97.24h-7.4M50.50,68.06h7.4M340.90,68.06h-7.4M50.50,38.88h7.4M340.90,38.88h-7.4" stroke="#1a1a1a" stroke-width="1" fill="none"/>
<rect x="50.5" y="10.4" width="290.4" height="144.5" fill="none" stroke="#1a1a1a" stroke-width="1.1"/>
<g font-family="Liberation Serif, serif" font-size="16" fill="#111">
<text x="49.90" y="174.00" fill="#111" text-anchor="middle" >0</text>
<text x="122.77" y="174.00" fill="#111" text-anchor="middle" >10</text>
<text x="195.64" y="174.00" fill="#111" text-anchor="middle" >20</text>
<text x="268.51" y="174.00" fill="#111" text-anchor="middle" >30</text>
<text x="341.38" y="174.00" fill="#111" text-anchor="middle" >40</text>
<text x="42.90" y="160.70" fill="#111" text-anchor="end" >0</text>
<text x="42.90" y="131.52" fill="#111" text-anchor="end" >2</text>
<text x="42.90" y="102.34" fill="#111" text-anchor="end" >4</text>
<text x="42.90" y="73.16" fill="#111" text-anchor="end" >6</text>
<text x="42.90" y="43.98" fill="#111" text-anchor="end" >8</text>
<text x="42.90" y="14.80" fill="#111" text-anchor="end" >10</text>
<text x="196.20" y="190.70" fill="#111" text-anchor="middle" textLength="89.5" lengthAdjust="spacingAndGlyphs" >horizon, <tspan font-style="italic">θ</tspan> (s)</text>
<text transform="translate(12.00,164.10) rotate(-90)" textLength="52.6" lengthAdjust="spacingAndGlyphs">velocity</text>
<text transform="translate(12.00,106.10) rotate(-90)" textLength="35.3" lengthAdjust="spacingAndGlyphs">error,</text>
<text transform="translate(12.00,62.90) rotate(-90)" textLength="19.7" lengthAdjust="spacingAndGlyphs">VE</text>
<text transform="translate(12.00,37.30) rotate(-90)" textLength="37.6" lengthAdjust="spacingAndGlyphs">(m/s)</text>
<text x="310.30" y="138.60" fill="#111" text-anchor="start" >(a)</text>
</g>
<g font-family="Liberation Serif, serif" font-size="16">
<text x="284.80" y="102.70" fill="#e10000" text-anchor="start" textLength="44" lengthAdjust="spacingAndGlyphs" >Newell</text>
<text x="104.70" y="123.60" fill="#868686" text-anchor="start" textLength="56" lengthAdjust="spacingAndGlyphs" >constant</text>
<text x="172.50" y="55.40" fill="#9a00a8" text-anchor="start" textLength="46.6" lengthAdjust="spacingAndGlyphs" >Vel-FC</text>
</g>
<g clip-path="url(#cpb)" fill="none" stroke-linejoin="round">
<path d="M410.60,144.94 L411.51,144.57 L412.42,143.87 L413.32,143.76 L414.23,143.53 L415.14,142.99 L416.05,142.00 L416.95,141.18 L417.86,140.68 L418.77,139.98 L419.68,139.16 L420.58,137.94 L421.49,137.27 L422.40,136.70 L423.31,135.59 L424.21,134.13 L425.12,133.59 L426.03,132.43 L426.94,131.19 L427.84,130.32 L428.75,128.57 L429.66,128.25 L430.56,125.98 L431.47,125.29 L432.38,124.29 L433.29,122.62 L434.20,121.97 L435.10,120.10 L436.01,118.84 L436.92,118.05 L437.83,116.83 L438.73,115.30 L439.64,114.65 L440.55,113.35 L441.46,112.17 L442.36,110.75 L443.27,110.29 L444.18,109.09 L445.09,107.74 L445.99,107.78 L446.90,106.10 L447.81,105.57 L448.72,104.54 L449.62,102.44 L450.53,101.95 L451.44,100.59 L452.35,100.09 L453.25,98.87 L454.16,98.16 L455.07,97.20 L455.98,96.08 L456.88,95.03 L457.79,93.63 L458.70,93.15 L459.61,91.99 L460.51,91.19 L461.42,90.08 L462.33,89.51 L463.24,87.82 L464.14,87.30 L465.05,86.14 L465.96,85.22 L466.87,83.88 L467.77,83.02 L468.68,82.18 L469.59,81.16 L470.50,80.14 L471.40,79.07 L472.31,78.20 L473.22,77.05 L474.12,76.04 L475.03,75.44 L475.94,75.12 L476.85,73.37 L477.75,72.40 L478.66,72.29 L479.57,71.48 L480.48,71.14 L481.38,69.52 L482.29,69.25 L483.20,67.66 L484.11,68.15 L485.01,66.67 L485.92,65.76 L486.83,65.36 L487.74,64.78 L488.65,63.80 L489.55,63.36 L490.46,62.67 L491.37,61.95 L492.28,61.48 L493.18,60.79 L494.09,59.91 L495.00,59.68 L495.91,58.96 L496.81,58.68 L497.72,57.66 L498.63,57.77 L499.54,56.60 L500.44,57.25 L501.35,56.14 L502.26,55.84 L503.17,54.61 L504.07,54.35 L504.98,54.33 L505.89,53.65 L506.80,52.64 L507.70,52.60 L508.61,51.97 L509.52,52.13 L510.43,51.69 L511.33,50.66 L512.24,49.73 L513.15,50.13 L514.06,49.39 L514.96,49.42 L515.87,48.39 L516.78,48.48 L517.69,48.09 L518.59,48.12 L519.50,47.32 L520.41,46.78 L521.32,46.07 L522.22,46.45 L523.13,45.48 L524.04,45.52 L524.95,45.17 L525.85,45.03 L526.76,44.93 L527.67,44.47 L528.58,43.34 L529.48,43.85 L530.39,43.33 L531.30,42.59 L532.21,43.23 L533.11,42.21 L534.02,42.21 L534.93,41.74 L535.84,41.27 L536.74,41.31 L537.65,41.07 L538.56,40.56 L539.47,40.35 L540.37,40.51 L541.28,40.13 L542.19,40.24 L543.10,39.27 L544.00,39.79 L544.91,39.18 L545.82,38.54 L546.73,38.62 L547.63,38.75 L548.54,38.70 L549.45,38.49 L550.36,37.87 L551.26,37.86 L552.17,37.79 L553.08,36.87 L553.99,37.70 L554.89,37.43 L555.80,37.23 L556.71,36.89 L557.62,36.70 L558.52,36.71 L559.43,36.25 L560.34,36.15 L561.25,36.23 L562.15,36.69 L563.06,35.60 L563.97,35.94 L564.88,35.70 L565.78,35.40 L566.69,35.56 L567.60,35.28 L568.50,34.87 L569.41,34.83 L570.32,34.48 L571.23,34.66 L572.13,34.32 L573.04,34.40 L573.95,34.01 L574.86,33.68 L575.76,33.66 L576.67,33.83 L577.58,33.30 L578.49,33.03 L579.39,32.56 L580.30,32.72 L581.21,32.64 L582.12,32.68 L583.02,31.58 L583.93,32.24 L584.84,32.10 L585.75,31.63 L586.65,31.93 L587.56,30.91 L588.47,30.98 L589.38,30.70 L590.29,30.95 L591.19,30.63 L592.10,30.06 L593.01,29.87 L593.91,29.14 L594.82,29.47 L595.73,30.16 L596.64,29.42 L597.55,29.38 L598.45,28.79 L599.36,28.97 L600.27,28.64 L601.17,28.71 L602.08,28.28 L602.99,27.87 L603.90,28.32 L604.81,28.59 L605.71,28.16 L606.62,27.29 L607.53,27.57 L608.44,27.62 L609.34,27.74 L610.25,27.09 L611.16,27.27 L612.07,27.36 L612.97,27.47 L613.88,27.36 L614.79,27.43 L615.70,27.20 L616.60,27.04 L617.51,28.03 L618.42,27.95 L619.33,27.62 L620.23,27.65 L621.14,28.21 L622.05,28.03 L622.96,28.06 L623.86,28.16 L624.77,28.27 L625.68,28.26 L626.59,28.08 L627.49,28.23 L628.40,28.38 L629.31,28.58 L630.22,28.98 L631.12,29.03 L632.03,28.81 L632.94,29.10 L633.85,29.03 L634.75,29.32 L635.66,29.51 L636.57,29.54 L637.48,30.26 L638.38,30.01 L639.29,30.29 L640.20,30.03 L641.11,30.62 L642.01,30.52 L642.92,30.87 L643.83,30.78 L644.74,30.87 L645.64,31.31 L646.55,31.39 L647.46,31.54 L648.37,31.54 L649.27,32.03 L650.18,32.10 L651.09,32.41 L652.00,32.75 L652.90,32.61 L653.81,32.72 L654.72,33.27 L655.62,32.77 L656.53,33.64 L657.44,33.40 L658.35,33.71 L659.25,34.51 L660.16,34.23 L661.07,34.88 L661.98,34.66 L662.88,34.64 L663.79,34.51 L664.70,35.02 L665.61,35.90 L666.51,35.76 L667.42,35.43 L668.33,36.02 L669.24,35.76 L670.14,36.68 L671.05,36.83 L671.96,37.26 L672.87,37.18 L673.78,36.90 L674.68,37.73 L675.59,37.42 L676.50,37.72 L677.40,37.82 L678.31,38.32 L679.22,38.43 L680.13,38.01 L681.04,39.18 L681.94,38.79 L682.85,38.76 L683.76,39.26 L684.66,39.10 L685.57,40.62 L686.48,40.04 L687.39,40.48 L688.30,40.44 L689.20,40.53 L690.11,40.55 L691.02,41.11 L691.92,40.79 L692.83,41.68 L693.74,41.12 L694.65,41.65 L695.56,42.27 L696.46,42.44 L697.37,42.62 L698.28,42.57 L699.18,42.42 L700.09,42.24 L701.00,42.57 L701.00,66.18 L700.09,66.80 L699.18,66.03 L698.28,66.00 L697.37,66.60 L696.46,65.74 L695.56,65.95 L694.65,65.47 L693.74,65.69 L692.83,65.18 L691.92,65.28 L691.02,64.97 L690.11,65.40 L689.20,64.41 L688.30,64.72 L687.39,64.72 L686.48,64.48 L685.57,64.26 L684.66,63.89 L683.76,63.22 L682.85,63.35 L681.94,62.95 L681.04,62.88 L680.13,62.90 L679.22,62.67 L678.31,62.53 L677.40,62.09 L676.50,61.54 L675.59,61.43 L674.68,61.01 L673.78,60.56 L672.87,60.47 L671.96,60.38 L671.05,59.87 L670.14,59.53 L669.24,60.13 L668.33,59.03 L667.42,59.09 L666.51,58.80 L665.61,58.83 L664.70,58.50 L663.79,58.37 L662.88,58.29 L661.98,57.64 L661.07,57.42 L660.16,57.56 L659.25,57.50 L658.35,56.62 L657.44,56.76 L656.53,57.30 L655.62,56.48 L654.72,56.84 L653.81,56.81 L652.90,56.50 L652.00,55.92 L651.09,55.77 L650.18,55.60 L649.27,56.05 L648.37,55.62 L647.46,55.70 L646.55,55.35 L645.64,55.69 L644.74,55.42 L643.83,54.68 L642.92,54.68 L642.01,55.08 L641.11,55.63 L640.20,54.52 L639.29,54.38 L638.38,54.60 L637.48,54.45 L636.57,54.82 L635.66,54.26 L634.75,54.06 L633.85,54.75 L632.94,54.81 L632.03,54.31 L631.12,54.39 L630.22,54.69 L629.31,54.16 L628.40,54.33 L627.49,54.51 L626.59,54.27 L625.68,54.36 L624.77,54.38 L623.86,55.15 L622.96,54.33 L622.05,54.90 L621.14,54.78 L620.23,54.62 L619.33,54.63 L618.42,54.84 L617.51,55.05 L616.60,54.62 L615.70,55.31 L614.79,55.13 L613.88,54.84 L612.97,54.99 L612.07,56.05 L611.16,55.58 L610.25,55.06 L609.34,56.09 L608.44,55.62 L607.53,55.61 L606.62,56.55 L605.71,56.58 L604.81,56.87 L603.90,56.67 L602.99,56.44 L602.08,56.42 L601.17,57.16 L600.27,56.90 L599.36,57.32 L598.45,57.27 L597.55,57.76 L596.64,57.79 L595.73,58.22 L594.82,57.38 L593.91,57.97 L593.01,57.74 L592.10,57.92 L591.19,58.02 L590.29,58.34 L589.38,58.33 L588.47,58.16 L587.56,59.13 L586.65,58.05 L585.75,58.29 L584.84,58.48 L583.93,58.36 L583.02,58.13 L582.12,58.36 L581.21,58.89 L580.30,57.77 L579.39,59.07 L578.49,58.45 L577.58,58.75 L576.67,59.04 L575.76,58.83 L574.86,58.68 L573.95,58.81 L573.04,58.85 L572.13,59.35 L571.23,59.30 L570.32,59.00 L569.41,58.55 L568.50,58.96 L567.60,59.16 L566.69,58.30 L565.78,59.36 L564.88,58.76 L563.97,59.31 L563.06,58.88 L562.15,58.84 L561.25,58.96 L560.34,59.02 L559.43,59.05 L558.52,58.95 L557.62,59.18 L556.71,58.86 L555.80,58.77 L554.89,59.00 L553.99,58.79 L553.08,59.32 L552.17,59.10 L551.26,58.63 L550.36,58.88 L549.45,59.02 L548.54,58.70 L547.63,59.35 L546.73,59.38 L545.82,58.91 L544.91,59.94 L544.00,59.51 L543.10,59.12 L542.19,59.36 L541.28,59.94 L540.37,59.18 L539.47,59.29 L538.56,59.91 L537.65,60.79 L536.74,60.47 L535.84,60.66 L534.93,60.24 L534.02,60.46 L533.11,60.35 L532.21,60.53 L531.30,60.77 L530.39,61.41 L529.48,61.02 L528.58,61.11 L527.67,61.30 L526.76,61.64 L525.85,61.50 L524.95,61.68 L524.04,61.83 L523.13,62.02 L522.22,62.58 L521.32,62.62 L520.41,62.60 L519.50,63.13 L518.59,63.46 L517.69,63.42 L516.78,63.73 L515.87,64.15 L514.96,64.35 L514.06,64.54 L513.15,64.54 L512.24,64.96 L511.33,65.41 L510.43,65.83 L509.52,65.58 L508.61,66.23 L507.70,66.76 L506.80,67.07 L505.89,67.60 L504.98,67.62 L504.07,68.14 L503.17,68.20 L502.26,69.10 L501.35,69.04 L500.44,70.25 L499.54,70.36 L498.63,70.98 L497.72,71.64 L496.81,71.67 L495.91,72.47 L495.00,72.67 L494.09,73.11 L493.18,74.36 L492.28,74.50 L491.37,75.40 L490.46,76.51 L489.55,76.01 L488.65,77.05 L487.74,77.34 L486.83,78.17 L485.92,78.61 L485.01,79.63 L484.11,80.57 L483.20,81.23 L482.29,82.05 L481.38,82.60 L480.48,83.48 L479.57,84.05 L478.66,85.12 L477.75,85.44 L476.85,86.52 L475.94,87.78 L475.03,88.76 L474.12,89.10 L473.22,90.05 L472.31,90.97 L471.40,92.25 L470.50,92.26 L469.59,93.34 L468.68,94.68 L467.77,95.25 L466.87,95.65 L465.96,96.68 L465.05,97.08 L464.14,98.51 L463.24,98.65 L462.33,99.72 L461.42,100.89 L460.51,101.75 L459.61,102.62 L458.70,103.07 L457.79,104.35 L456.88,105.05 L455.98,105.75 L455.07,106.03 L454.16,106.57 L453.25,107.65 L452.35,108.16 L451.44,108.94 L450.53,109.57 L449.62,110.59 L448.72,110.98 L447.81,111.54 L446.90,112.54 L445.99,113.31 L445.09,114.01 L444.18,114.57 L443.27,115.69 L442.36,115.99 L441.46,117.05 L440.55,117.95 L439.64,118.77 L438.73,119.66 L437.83,120.84 L436.92,121.87 L436.01,122.21 L435.10,123.17 L434.20,124.13 L433.29,125.83 L432.38,126.83 L431.47,127.62 L430.56,129.22 L429.66,130.29 L428.75,131.51 L427.84,131.97 L426.94,133.79 L426.03,134.66 L425.12,135.89 L424.21,137.46 L423.31,138.67 L422.40,139.84 L421.49,139.76 L420.58,141.48 L419.68,142.35 L418.77,142.65 L417.86,144.04 L416.95,145.56 L416.05,145.24 L415.14,147.08 L414.23,147.83 L413.32,149.08 L412.42,149.63 L411.51,151.09 L410.60,151.68Z" fill="#9a00a8" fill-opacity="0.25" stroke="none"/>
<path d="M410.60,154.88 L411.40,154.01 L412.27,153.07 L413.14,152.11 L414.01,151.16 L414.45,150.68M416.12,148.82 L416.99,147.84 L417.86,146.86 L418.73,145.88 L419.60,144.89 L419.90,144.55M421.55,142.67 L422.36,141.74 L423.24,140.75 L424.11,139.75 L424.98,138.76 L425.31,138.39M426.96,136.51 L427.81,135.54 L428.68,134.56 L429.55,133.59 L430.42,132.62 L430.76,132.26M432.45,130.42 L433.26,129.56 L434.13,128.64 L435.00,127.74 L435.87,126.85 L436.40,126.31M438.18,124.56 L438.99,123.79 L439.87,122.96 L440.74,122.16 L441.61,121.37 L442.37,120.70M444.25,119.07 L445.09,118.36 L445.97,117.65 L446.84,116.95 L447.71,116.27 L448.58,115.59 L448.68,115.51M450.66,114.04 L451.48,113.45 L452.36,112.83 L453.23,112.24 L454.10,111.65 L454.97,111.08 L455.33,110.84M457.39,109.55 L458.24,109.04 L459.11,108.53 L459.98,108.03 L460.85,107.54 L461.72,107.06 L462.29,106.76M464.44,105.66 L465.28,105.24 L466.15,104.82 L467.02,104.41 L467.90,104.01 L468.77,103.61 L469.53,103.28M471.72,102.35 L472.54,102.02 L473.41,101.67 L474.29,101.34 L475.16,101.01 L476.03,100.69 L476.90,100.38 L476.95,100.37M479.18,99.61 L480.02,99.33 L480.89,99.06 L481.77,98.78 L482.64,98.52 L483.51,98.26 L484.38,98.00 L484.51,97.96M486.74,97.33 L487.58,97.10 L488.45,96.87 L489.32,96.64 L490.19,96.42 L491.06,96.20 L491.93,95.99 L492.14,95.94M494.38,95.42 L495.20,95.25 L496.07,95.06 L496.94,94.88 L497.81,94.70 L498.69,94.52 L499.56,94.35 L499.82,94.30M502.06,93.87 L502.90,93.71 L503.77,93.54 L504.64,93.38 L505.51,93.21 L506.38,93.04 L507.25,92.87 L507.51,92.82M509.74,92.37 L510.60,92.20 L511.47,92.01 L512.34,91.83 L513.21,91.64 L514.08,91.46 L514.95,91.27 L515.17,91.22M517.39,90.72 L518.22,90.53 L519.09,90.34 L519.96,90.13 L520.83,89.93 L521.71,89.72 L522.58,89.51 L522.80,89.46M525.02,88.91 L525.85,88.69 L526.72,88.47 L527.59,88.23 L528.46,87.99 L529.33,87.75 L530.20,87.50 L530.39,87.45M532.59,86.81 L533.40,86.58 L534.27,86.32 L535.14,86.07 L536.01,85.82 L536.88,85.57 L537.75,85.33 L537.95,85.28M540.19,84.69 L541.02,84.48 L541.89,84.27 L542.77,84.06 L543.64,83.86 L544.51,83.67 L545.38,83.48 L545.60,83.43M547.85,82.96 L548.72,82.79 L549.59,82.61 L550.46,82.44 L551.33,82.27 L552.21,82.11 L553.08,81.94 L553.30,81.90M555.54,81.49 L556.34,81.34 L557.22,81.19 L558.09,81.03 L558.96,80.88 L559.83,80.72 L560.70,80.57 L561.00,80.52M563.23,80.13 L564.04,79.99 L564.91,79.85 L565.78,79.70 L566.66,79.56 L567.53,79.42 L568.40,79.28 L568.70,79.23M570.94,78.90 L571.81,78.77 L572.68,78.65 L573.56,78.53 L574.43,78.42 L575.30,78.31 L576.17,78.20 L576.43,78.17M578.67,77.92 L579.51,77.83 L580.38,77.74 L581.25,77.65 L582.12,77.57 L583.00,77.49 L583.87,77.41 L584.17,77.38M586.41,77.18 L587.21,77.12 L588.08,77.04 L588.95,76.97 L589.82,76.90 L590.69,76.83 L591.56,76.76 L591.91,76.73M594.13,76.55 L594.98,76.48 L595.85,76.41 L596.72,76.34 L597.59,76.26 L598.46,76.19 L599.33,76.11 L599.64,76.08M601.86,75.88 L602.68,75.80 L603.55,75.72 L604.42,75.63 L605.29,75.54 L606.16,75.45 L607.03,75.36 L607.35,75.33M609.58,75.09 L610.45,75.00 L611.32,74.90 L612.19,74.80 L613.06,74.71 L613.93,74.61 L614.80,74.51 L615.07,74.48M617.30,74.22 L618.14,74.12 L619.01,74.02 L619.89,73.92 L620.76,73.82 L621.63,73.71 L622.50,73.61 L622.79,73.57M625.02,73.30 L625.84,73.20 L626.71,73.10 L627.58,72.99 L628.45,72.88 L629.33,72.78 L630.20,72.67 L630.51,72.63M632.74,72.36 L633.54,72.26 L634.41,72.15 L635.28,72.04 L636.15,71.93 L637.02,71.83 L637.89,71.72 L638.22,71.68M640.45,71.39 L641.31,71.29 L642.18,71.18 L643.05,71.06 L643.92,70.95 L644.79,70.84 L645.66,70.73 L645.94,70.69M648.17,70.39 L649.01,70.28 L649.88,70.16 L650.75,70.04 L651.62,69.92 L652.49,69.80 L653.36,69.68 L653.65,69.64M655.88,69.32 L656.70,69.20 L657.57,69.07 L658.45,68.95 L659.32,68.82 L660.19,68.68 L661.06,68.55 L661.36,68.51M663.58,68.16 L664.40,68.03 L665.27,67.89 L666.14,67.75 L667.01,67.60 L667.89,67.44 L668.76,67.29 L669.05,67.23M671.26,66.80 L672.10,66.62 L672.97,66.42 L673.84,66.23 L674.71,66.01 L675.58,65.79 L676.46,65.55 L676.66,65.49M678.84,64.86 L679.65,64.60 L680.52,64.32 L681.39,64.03 L682.26,63.74 L683.14,63.43 L684.01,63.12 L684.13,63.08M686.30,62.28 L687.13,61.96 L688.00,61.63 L688.87,61.28 L689.74,60.94 L690.62,60.58 L691.49,60.22 L691.49,60.22M693.64,59.30 L694.46,58.94 L695.34,58.55 L696.21,58.16 L697.08,57.76 L697.95,57.35 L698.74,56.98M700.87,55.97 L701.00,55.90" stroke="#7f7f7f" stroke-width="2.0"/>
<path d="M410.60,75.14 L412.42,75.18 L414.23,75.22 L416.05,75.26 L417.86,75.30 L419.68,75.34 L421.49,75.38 L423.31,75.43 L425.12,75.47 L426.94,75.51 L428.75,75.56 L430.56,75.60 L432.38,75.64 L434.20,75.69 L436.01,75.73 L437.83,75.78 L439.64,75.82 L441.46,75.87 L443.27,75.91 L445.09,75.96 L446.90,76.01 L448.72,76.05 L450.53,76.11 L452.35,76.16 L454.16,76.21 L455.98,76.27 L457.79,76.32 L459.61,76.38 L461.42,76.43 L463.24,76.49 L465.05,76.54 L466.87,76.59 L468.68,76.64 L470.50,76.69 L472.31,76.74 L474.12,76.78 L475.94,76.81 L477.75,76.85 L479.57,76.88 L481.38,76.91 L483.20,76.93 L485.01,76.96 L486.83,76.98 L488.65,77.01 L490.46,77.03 L492.28,77.05 L494.09,77.08 L495.91,77.09 L497.72,77.11 L499.54,77.12 L501.35,77.14 L503.17,77.14 L504.98,77.15 L506.80,77.16 L508.61,77.16 L510.43,77.16 L512.24,77.16 L514.06,77.16 L515.87,77.16 L517.69,77.16 L519.50,77.16 L521.32,77.16 L523.13,77.16 L524.95,77.16 L526.76,77.16 L528.58,77.16 L530.39,77.16 L532.21,77.16 L534.02,77.16 L535.84,77.16 L537.65,77.16 L539.47,77.15 L541.28,77.14 L543.10,77.12 L544.91,77.09 L546.73,77.05 L548.54,77.00 L550.36,76.95 L552.17,76.89 L553.99,76.82 L555.80,76.76 L557.62,76.70 L559.43,76.64 L561.25,76.58 L563.06,76.54 L564.88,76.50 L566.69,76.47 L568.50,76.46 L570.32,76.45 L572.13,76.46 L573.95,76.47 L575.76,76.48 L577.58,76.50 L579.39,76.52 L581.21,76.55 L583.02,76.58 L584.84,76.62 L586.65,76.66 L588.47,76.71 L590.29,76.78 L592.10,76.86 L593.91,76.97 L595.73,77.10 L597.55,77.24 L599.36,77.40 L601.17,77.57 L602.99,77.74 L604.81,77.93 L606.62,78.12 L608.44,78.31 L610.25,78.52 L612.07,78.75 L613.88,78.99 L615.70,79.25 L617.51,79.54 L619.33,79.85 L621.14,80.19 L622.96,80.56 L624.77,80.94 L626.59,81.34 L628.40,81.73 L630.22,82.11 L632.03,82.49 L633.85,82.85 L635.66,83.21 L637.48,83.56 L639.29,83.89 L641.11,84.20 L642.92,84.50 L644.74,84.77 L646.55,85.02 L648.37,85.26 L650.18,85.47 L652.00,85.67 L653.81,85.85 L655.62,85.99 L657.44,86.11 L659.25,86.20 L661.07,86.26 L662.88,86.30 L664.70,86.33 L666.51,86.35 L668.33,86.37 L670.14,86.39 L671.96,86.39 L673.78,86.40 L675.59,86.40 L677.40,86.39 L679.22,86.38 L681.04,86.37 L682.85,86.36 L684.66,86.33 L686.48,86.31 L688.30,86.28 L690.11,86.25 L691.92,86.21 L693.74,86.17 L695.56,86.13 L697.37,86.08 L699.18,86.03 L701.00,85.97" stroke="#e10000" stroke-width="2.1"/>
<path d="M410.60,144.94 L411.51,144.57 L412.42,143.87 L413.32,143.76 L414.23,143.53 L415.14,142.99 L416.05,142.00 L416.95,141.18 L417.86,140.68 L418.77,139.98 L419.68,139.16 L420.58,137.94 L421.49,137.27 L422.40,136.70 L423.31,135.59 L424.21,134.13 L425.12,133.59 L426.03,132.43 L426.94,131.19 L427.84,130.32 L428.75,128.57 L429.66,128.25 L430.56,125.98 L431.47,125.29 L432.38,124.29 L433.29,122.62 L434.20,121.97 L435.10,120.10 L436.01,118.84 L436.92,118.05 L437.83,116.83 L438.73,115.30 L439.64,114.65 L440.55,113.35 L441.46,112.17 L442.36,110.75 L443.27,110.29 L444.18,109.09 L445.09,107.74 L445.99,107.78 L446.90,106.10 L447.81,105.57 L448.72,104.54 L449.62,102.44 L450.53,101.95 L451.44,100.59 L452.35,100.09 L453.25,98.87 L454.16,98.16 L455.07,97.20 L455.98,96.08 L456.88,95.03 L457.79,93.63 L458.70,93.15 L459.61,91.99 L460.51,91.19 L461.42,90.08 L462.33,89.51 L463.24,87.82 L464.14,87.30 L465.05,86.14 L465.96,85.22 L466.87,83.88 L467.77,83.02 L468.68,82.18 L469.59,81.16 L470.50,80.14 L471.40,79.07 L472.31,78.20 L473.22,77.05 L474.12,76.04 L475.03,75.44 L475.94,75.12 L476.85,73.37 L477.75,72.40 L478.66,72.29 L479.57,71.48 L480.48,71.14 L481.38,69.52 L482.29,69.25 L483.20,67.66 L484.11,68.15 L485.01,66.67 L485.92,65.76 L486.83,65.36 L487.74,64.78 L488.65,63.80 L489.55,63.36 L490.46,62.67 L491.37,61.95 L492.28,61.48 L493.18,60.79 L494.09,59.91 L495.00,59.68 L495.91,58.96 L496.81,58.68 L497.72,57.66 L498.63,57.77 L499.54,56.60 L500.44,57.25 L501.35,56.14 L502.26,55.84 L503.17,54.61 L504.07,54.35 L504.98,54.33 L505.89,53.65 L506.80,52.64 L507.70,52.60 L508.61,51.97 L509.52,52.13 L510.43,51.69 L511.33,50.66 L512.24,49.73 L513.15,50.13 L514.06,49.39 L514.96,49.42 L515.87,48.39 L516.78,48.48 L517.69,48.09 L518.59,48.12 L519.50,47.32 L520.41,46.78 L521.32,46.07 L522.22,46.45 L523.13,45.48 L524.04,45.52 L524.95,45.17 L525.85,45.03 L526.76,44.93 L527.67,44.47 L528.58,43.34 L529.48,43.85 L530.39,43.33 L531.30,42.59 L532.21,43.23 L533.11,42.21 L534.02,42.21 L534.93,41.74 L535.84,41.27 L536.74,41.31 L537.65,41.07 L538.56,40.56 L539.47,40.35 L540.37,40.51 L541.28,40.13 L542.19,40.24 L543.10,39.27 L544.00,39.79 L544.91,39.18 L545.82,38.54 L546.73,38.62 L547.63,38.75 L548.54,38.70 L549.45,38.49 L550.36,37.87 L551.26,37.86 L552.17,37.79 L553.08,36.87 L553.99,37.70 L554.89,37.43 L555.80,37.23 L556.71,36.89 L557.62,36.70 L558.52,36.71 L559.43,36.25 L560.34,36.15 L561.25,36.23 L562.15,36.69 L563.06,35.60 L563.97,35.94 L564.88,35.70 L565.78,35.40 L566.69,35.56 L567.60,35.28 L568.50,34.87 L569.41,34.83 L570.32,34.48 L571.23,34.66 L572.13,34.32 L573.04,34.40 L573.95,34.01 L574.86,33.68 L575.76,33.66 L576.67,33.83 L577.58,33.30 L578.49,33.03 L579.39,32.56 L580.30,32.72 L581.21,32.64 L582.12,32.68 L583.02,31.58 L583.93,32.24 L584.84,32.10 L585.75,31.63 L586.65,31.93 L587.56,30.91 L588.47,30.98 L589.38,30.70 L590.29,30.95 L591.19,30.63 L592.10,30.06 L593.01,29.87 L593.91,29.14 L594.82,29.47 L595.73,30.16 L596.64,29.42 L597.55,29.38 L598.45,28.79 L599.36,28.97 L600.27,28.64 L601.17,28.71 L602.08,28.28 L602.99,27.87 L603.90,28.32 L604.81,28.59 L605.71,28.16 L606.62,27.29 L607.53,27.57 L608.44,27.62 L609.34,27.74 L610.25,27.09 L611.16,27.27 L612.07,27.36 L612.97,27.47 L613.88,27.36 L614.79,27.43 L615.70,27.20 L616.60,27.04 L617.51,28.03 L618.42,27.95 L619.33,27.62 L620.23,27.65 L621.14,28.21 L622.05,28.03 L622.96,28.06 L623.86,28.16 L624.77,28.27 L625.68,28.26 L626.59,28.08 L627.49,28.23 L628.40,28.38 L629.31,28.58 L630.22,28.98 L631.12,29.03 L632.03,28.81 L632.94,29.10 L633.85,29.03 L634.75,29.32 L635.66,29.51 L636.57,29.54 L637.48,30.26 L638.38,30.01 L639.29,30.29 L640.20,30.03 L641.11,30.62 L642.01,30.52 L642.92,30.87 L643.83,30.78 L644.74,30.87 L645.64,31.31 L646.55,31.39 L647.46,31.54 L648.37,31.54 L649.27,32.03 L650.18,32.10 L651.09,32.41 L652.00,32.75 L652.90,32.61 L653.81,32.72 L654.72,33.27 L655.62,32.77 L656.53,33.64 L657.44,33.40 L658.35,33.71 L659.25,34.51 L660.16,34.23 L661.07,34.88 L661.98,34.66 L662.88,34.64 L663.79,34.51 L664.70,35.02 L665.61,35.90 L666.51,35.76 L667.42,35.43 L668.33,36.02 L669.24,35.76 L670.14,36.68 L671.05,36.83 L671.96,37.26 L672.87,37.18 L673.78,36.90 L674.68,37.73 L675.59,37.42 L676.50,37.72 L677.40,37.82 L678.31,38.32 L679.22,38.43 L680.13,38.01 L681.04,39.18 L681.94,38.79 L682.85,38.76 L683.76,39.26 L684.66,39.10 L685.57,40.62 L686.48,40.04 L687.39,40.48 L688.30,40.44 L689.20,40.53 L690.11,40.55 L691.02,41.11 L691.92,40.79 L692.83,41.68 L693.74,41.12 L694.65,41.65 L695.56,42.27 L696.46,42.44 L697.37,42.62 L698.28,42.57 L699.18,42.42 L700.09,42.24 L701.00,42.57" stroke="#9a00a8" stroke-width="1.2"/>
<path d="M410.60,151.68 L411.51,151.09 L412.42,149.63 L413.32,149.08 L414.23,147.83 L415.14,147.08 L416.05,145.24 L416.95,145.56 L417.86,144.04 L418.77,142.65 L419.68,142.35 L420.58,141.48 L421.49,139.76 L422.40,139.84 L423.31,138.67 L424.21,137.46 L425.12,135.89 L426.03,134.66 L426.94,133.79 L427.84,131.97 L428.75,131.51 L429.66,130.29 L430.56,129.22 L431.47,127.62 L432.38,126.83 L433.29,125.83 L434.20,124.13 L435.10,123.17 L436.01,122.21 L436.92,121.87 L437.83,120.84 L438.73,119.66 L439.64,118.77 L440.55,117.95 L441.46,117.05 L442.36,115.99 L443.27,115.69 L444.18,114.57 L445.09,114.01 L445.99,113.31 L446.90,112.54 L447.81,111.54 L448.72,110.98 L449.62,110.59 L450.53,109.57 L451.44,108.94 L452.35,108.16 L453.25,107.65 L454.16,106.57 L455.07,106.03 L455.98,105.75 L456.88,105.05 L457.79,104.35 L458.70,103.07 L459.61,102.62 L460.51,101.75 L461.42,100.89 L462.33,99.72 L463.24,98.65 L464.14,98.51 L465.05,97.08 L465.96,96.68 L466.87,95.65 L467.77,95.25 L468.68,94.68 L469.59,93.34 L470.50,92.26 L471.40,92.25 L472.31,90.97 L473.22,90.05 L474.12,89.10 L475.03,88.76 L475.94,87.78 L476.85,86.52 L477.75,85.44 L478.66,85.12 L479.57,84.05 L480.48,83.48 L481.38,82.60 L482.29,82.05 L483.20,81.23 L484.11,80.57 L485.01,79.63 L485.92,78.61 L486.83,78.17 L487.74,77.34 L488.65,77.05 L489.55,76.01 L490.46,76.51 L491.37,75.40 L492.28,74.50 L493.18,74.36 L494.09,73.11 L495.00,72.67 L495.91,72.47 L496.81,71.67 L497.72,71.64 L498.63,70.98 L499.54,70.36 L500.44,70.25 L501.35,69.04 L502.26,69.10 L503.17,68.20 L504.07,68.14 L504.98,67.62 L505.89,67.60 L506.80,67.07 L507.70,66.76 L508.61,66.23 L509.52,65.58 L510.43,65.83 L511.33,65.41 L512.24,64.96 L513.15,64.54 L514.06,64.54 L514.96,64.35 L515.87,64.15 L516.78,63.73 L517.69,63.42 L518.59,63.46 L519.50,63.13 L520.41,62.60 L521.32,62.62 L522.22,62.58 L523.13,62.02 L524.04,61.83 L524.95,61.68 L525.85,61.50 L526.76,61.64 L527.67,61.30 L528.58,61.11 L529.48,61.02 L530.39,61.41 L531.30,60.77 L532.21,60.53 L533.11,60.35 L534.02,60.46 L534.93,60.24 L535.84,60.66 L536.74,60.47 L537.65,60.79 L538.56,59.91 L539.47,59.29 L540.37,59.18 L541.28,59.94 L542.19,59.36 L543.10,59.12 L544.00,59.51 L544.91,59.94 L545.82,58.91 L546.73,59.38 L547.63,59.35 L548.54,58.70 L549.45,59.02 L550.36,58.88 L551.26,58.63 L552.17,59.10 L553.08,59.32 L553.99,58.79 L554.89,59.00 L555.80,58.77 L556.71,58.86 L557.62,59.18 L558.52,58.95 L559.43,59.05 L560.34,59.02 L561.25,58.96 L562.15,58.84 L563.06,58.88 L563.97,59.31 L564.88,58.76 L565.78,59.36 L566.69,58.30 L567.60,59.16 L568.50,58.96 L569.41,58.55 L570.32,59.00 L571.23,59.30 L572.13,59.35 L573.04,58.85 L573.95,58.81 L574.86,58.68 L575.76,58.83 L576.67,59.04 L577.58,58.75 L578.49,58.45 L579.39,59.07 L580.30,57.77 L581.21,58.89 L582.12,58.36 L583.02,58.13 L583.93,58.36 L584.84,58.48 L585.75,58.29 L586.65,58.05 L587.56,59.13 L588.47,58.16 L589.38,58.33 L590.29,58.34 L591.19,58.02 L592.10,57.92 L593.01,57.74 L593.91,57.97 L594.82,57.38 L595.73,58.22 L596.64,57.79 L597.55,57.76 L598.45,57.27 L599.36,57.32 L600.27,56.90 L601.17,57.16 L602.08,56.42 L602.99,56.44 L603.90,56.67 L604.81,56.87 L605.71,56.58 L606.62,56.55 L607.53,55.61 L608.44,55.62 L609.34,56.09 L610.25,55.06 L611.16,55.58 L612.07,56.05 L612.97,54.99 L613.88,54.84 L614.79,55.13 L615.70,55.31 L616.60,54.62 L617.51,55.05 L618.42,54.84 L619.33,54.63 L620.23,54.62 L621.14,54.78 L622.05,54.90 L622.96,54.33 L623.86,55.15 L624.77,54.38 L625.68,54.36 L626.59,54.27 L627.49,54.51 L628.40,54.33 L629.31,54.16 L630.22,54.69 L631.12,54.39 L632.03,54.31 L632.94,54.81 L633.85,54.75 L634.75,54.06 L635.66,54.26 L636.57,54.82 L637.48,54.45 L638.38,54.60 L639.29,54.38 L640.20,54.52 L641.11,55.63 L642.01,55.08 L642.92,54.68 L643.83,54.68 L644.74,55.42 L645.64,55.69 L646.55,55.35 L647.46,55.70 L648.37,55.62 L649.27,56.05 L650.18,55.60 L651.09,55.77 L652.00,55.92 L652.90,56.50 L653.81,56.81 L654.72,56.84 L655.62,56.48 L656.53,57.30 L657.44,56.76 L658.35,56.62 L659.25,57.50 L660.16,57.56 L661.07,57.42 L661.98,57.64 L662.88,58.29 L663.79,58.37 L664.70,58.50 L665.61,58.83 L666.51,58.80 L667.42,59.09 L668.33,59.03 L669.24,60.13 L670.14,59.53 L671.05,59.87 L671.96,60.38 L672.87,60.47 L673.78,60.56 L674.68,61.01 L675.59,61.43 L676.50,61.54 L677.40,62.09 L678.31,62.53 L679.22,62.67 L680.13,62.90 L681.04,62.88 L681.94,62.95 L682.85,63.35 L683.76,63.22 L684.66,63.89 L685.57,64.26 L686.48,64.48 L687.39,64.72 L688.30,64.72 L689.20,64.41 L690.11,65.40 L691.02,64.97 L691.92,65.28 L692.83,65.18 L693.74,65.69 L694.65,65.47 L695.56,65.95 L696.46,65.74 L697.37,66.60 L698.28,66.00 L699.18,66.03 L700.09,66.80 L701.00,66.18" stroke="#9a00a8" stroke-width="1.2"/>
<path d="M410.60,148.33 L411.51,147.35 L412.42,146.84 L413.32,146.05 L414.23,145.40 L415.14,144.92 L416.05,143.73 L416.95,143.00 L417.86,142.55 L418.77,141.45 L419.68,140.58 L420.58,139.85 L421.49,138.96 L422.40,137.61 L423.31,136.85 L424.21,135.59 L425.12,134.34 L426.03,133.45 L426.94,132.53 L427.84,131.06 L428.75,130.25 L429.66,128.99 L430.56,127.17 L431.47,126.56 L432.38,125.18 L433.29,124.22 L434.20,122.89 L435.10,121.68 L436.01,121.00 L436.92,119.58 L437.83,118.29 L438.73,117.20 L439.64,116.25 L440.55,115.45 L441.46,114.26 L442.36,113.44 L443.27,112.55 L444.18,111.50 L445.09,110.23 L445.99,109.85 L446.90,108.66 L447.81,107.91 L448.72,107.32 L449.62,106.37 L450.53,105.40 L451.44,104.60 L452.35,103.64 L453.25,103.00 L454.16,102.17 L455.07,101.01 L455.98,100.34 L456.88,99.64 L457.79,98.68 L458.70,97.56 L459.61,97.11 L460.51,96.43 L461.42,95.21 L462.33,94.22 L463.24,93.49 L464.14,93.05 L465.05,92.32 L465.96,90.93 L466.87,90.30 L467.77,89.32 L468.68,88.56 L469.59,87.40 L470.50,86.79 L471.40,85.98 L472.31,85.05 L473.22,84.41 L474.12,83.34 L475.03,82.54 L475.94,82.03 L476.85,81.04 L477.75,80.24 L478.66,79.47 L479.57,78.35 L480.48,77.43 L481.38,76.76 L482.29,76.26 L483.20,75.53 L484.11,74.35 L485.01,73.77 L485.92,73.00 L486.83,72.46 L487.74,71.87 L488.65,70.49 L489.55,70.26 L490.46,69.53 L491.37,69.02 L492.28,67.96 L493.18,67.63 L494.09,66.98 L495.00,66.34 L495.91,65.76 L496.81,64.94 L497.72,64.89 L498.63,63.94 L499.54,63.59 L500.44,63.02 L501.35,62.52 L502.26,61.85 L503.17,61.62 L504.07,61.02 L504.98,60.38 L505.89,60.10 L506.80,59.65 L507.70,59.08 L508.61,58.71 L509.52,58.37 L510.43,57.91 L511.33,57.68 L512.24,57.03 L513.15,56.97 L514.06,56.70 L514.96,56.03 L515.87,55.97 L516.78,55.58 L517.69,55.15 L518.59,54.69 L519.50,54.58 L520.41,54.29 L521.32,54.01 L522.22,53.61 L523.13,53.49 L524.04,53.12 L524.95,52.70 L525.85,52.72 L526.76,52.52 L527.67,52.39 L528.58,52.15 L529.48,52.02 L530.39,51.80 L531.30,51.52 L532.21,51.19 L533.11,50.98 L534.02,50.95 L534.93,50.66 L535.84,50.76 L536.74,50.06 L537.65,49.85 L538.56,50.11 L539.47,49.87 L540.37,49.80 L541.28,49.56 L542.19,49.66 L543.10,49.69 L544.00,49.21 L544.91,49.40 L545.82,49.07 L546.73,49.17 L547.63,49.05 L548.54,48.67 L549.45,48.48 L550.36,48.67 L551.26,48.63 L552.17,48.42 L553.08,48.47 L553.99,48.57 L554.89,48.21 L555.80,48.47 L556.71,47.96 L557.62,48.02 L558.52,47.82 L559.43,47.99 L560.34,47.78 L561.25,47.48 L562.15,47.26 L563.06,47.25 L563.97,47.23 L564.88,47.38 L565.78,47.01 L566.69,46.99 L567.60,46.96 L568.50,46.61 L569.41,46.84 L570.32,46.34 L571.23,46.62 L572.13,46.52 L573.04,46.32 L573.95,46.41 L574.86,46.16 L575.76,45.96 L576.67,46.13 L577.58,45.87 L578.49,45.84 L579.39,45.56 L580.30,45.18 L581.21,45.29 L582.12,45.12 L583.02,44.92 L583.93,44.99 L584.84,44.63 L585.75,44.61 L586.65,44.49 L587.56,44.51 L588.47,44.20 L589.38,43.79 L590.29,43.62 L591.19,43.72 L592.10,43.52 L593.01,43.46 L593.91,43.43 L594.82,43.41 L595.73,42.72 L596.64,43.01 L597.55,42.69 L598.45,42.34 L599.36,42.52 L600.27,42.35 L601.17,42.15 L602.08,42.12 L602.99,41.90 L603.90,41.87 L604.81,41.52 L605.71,41.51 L606.62,41.68 L607.53,41.61 L608.44,41.43 L609.34,41.36 L610.25,41.33 L611.16,41.02 L612.07,41.26 L612.97,41.20 L613.88,41.10 L614.79,41.44 L615.70,41.07 L616.60,41.06 L617.51,40.95 L618.42,41.36 L619.33,41.31 L620.23,41.24 L621.14,41.38 L622.05,41.59 L622.96,41.27 L623.86,41.50 L624.77,41.45 L625.68,41.73 L626.59,41.46 L627.49,41.72 L628.40,41.84 L629.31,41.66 L630.22,41.67 L631.12,42.06 L632.03,41.82 L632.94,41.79 L633.85,42.08 L634.75,42.42 L635.66,42.18 L636.57,42.19 L637.48,42.60 L638.38,42.27 L639.29,42.66 L640.20,42.74 L641.11,42.64 L642.01,42.89 L642.92,42.82 L643.83,43.13 L644.74,43.18 L645.64,43.35 L646.55,43.43 L647.46,43.49 L648.37,43.63 L649.27,43.88 L650.18,43.81 L651.09,44.11 L652.00,44.04 L652.90,44.28 L653.81,44.54 L654.72,44.80 L655.62,44.83 L656.53,44.78 L657.44,45.14 L658.35,45.20 L659.25,45.54 L660.16,45.76 L661.07,46.01 L661.98,46.40 L662.88,46.23 L663.79,46.47 L664.70,46.68 L665.61,46.75 L666.51,47.23 L667.42,47.00 L668.33,47.71 L669.24,47.64 L670.14,48.07 L671.05,48.14 L671.96,48.12 L672.87,48.75 L673.78,48.70 L674.68,48.93 L675.59,49.13 L676.50,49.34 L677.40,49.48 L678.31,49.75 L679.22,49.99 L680.13,50.13 L681.04,50.39 L681.94,50.73 L682.85,51.12 L683.76,51.02 L684.66,51.41 L685.57,51.30 L686.48,51.85 L687.39,52.15 L688.30,51.97 L689.20,52.46 L690.11,52.77 L691.02,52.53 L691.92,53.14 L692.83,52.88 L693.74,53.42 L694.65,53.37 L695.56,53.58 L696.46,54.07 L697.37,53.96 L698.28,54.19 L699.18,54.27 L700.09,54.36 L701.00,54.36" stroke="#9a00a8" stroke-width="2.2"/>
</g>
<path d="M446.54,154.90v-7.4M446.54,10.40v7.4M482.97,154.90v-7.4M482.97,10.40v7.4M519.40,154.90v-7.4M519.40,10.40v7.4M555.84,154.90v-7.4M555.84,10.40v7.4M592.28,154.90v-7.4M592.28,10.40v7.4M628.71,154.90v-7.4M628.71,10.40v7.4M665.14,154.90v-7.4M665.14,10.40v7.4M410.60,126.42h7.4M701.00,126.42h-7.4M410.60,97.24h7.4M701.00,97.24h-7.4M410.60,68.06h7.4M701.00,68.06h-7.4M410.60,38.88h7.4M701.00,38.88h-7.4" stroke="#1a1a1a" stroke-width="1" fill="none"/>
<rect x="410.6" y="10.4" width="290.4" height="144.5" fill="none" stroke="#1a1a1a" stroke-width="1.1"/>
<g font-family="Liberation Serif, serif" font-size="16" fill="#111">
<text x="410.00" y="174.00" fill="#111" text-anchor="middle" >0</text>
<text x="482.87" y="174.00" fill="#111" text-anchor="middle" >10</text>
<text x="555.74" y="174.00" fill="#111" text-anchor="middle" >20</text>
<text x="628.61" y="174.00" fill="#111" text-anchor="middle" >30</text>
<text x="701.48" y="174.00" fill="#111" text-anchor="middle" >40</text>
<text x="403.00" y="160.70" fill="#111" text-anchor="end" >0</text>
<text x="403.00" y="131.52" fill="#111" text-anchor="end" >2</text>
<text x="403.00" y="102.34" fill="#111" text-anchor="end" >4</text>
<text x="403.00" y="73.16" fill="#111" text-anchor="end" >6</text>
<text x="403.00" y="43.98" fill="#111" text-anchor="end" >8</text>
<text x="403.00" y="14.80" fill="#111" text-anchor="end" >10</text>
<text x="556.30" y="190.70" fill="#111" text-anchor="middle" textLength="89.5" lengthAdjust="spacingAndGlyphs" >horizon, <tspan font-style="italic">θ</tspan> (s)</text>
<text transform="translate(372.10,164.10) rotate(-90)" textLength="52.6" lengthAdjust="spacingAndGlyphs">velocity</text>
<text transform="translate(372.10,106.10) rotate(-90)" textLength="35.3" lengthAdjust="spacingAndGlyphs">error,</text>
<text transform="translate(372.10,62.90) rotate(-90)" textLength="19.7" lengthAdjust="spacingAndGlyphs">VE</text>
<text transform="translate(372.10,37.30) rotate(-90)" textLength="37.6" lengthAdjust="spacingAndGlyphs">(m/s)</text>
<text x="670.40" y="138.60" fill="#111" text-anchor="start" >(b)</text>
</g>
<g font-family="Liberation Serif, serif" font-size="16">
<text x="644.90" y="102.70" fill="#e10000" text-anchor="start" textLength="44" lengthAdjust="spacingAndGlyphs" >Newell</text>
<text x="464.80" y="123.60" fill="#868686" text-anchor="start" textLength="56" lengthAdjust="spacingAndGlyphs" >constant</text>
<text x="421.80" y="35.00" fill="#9a00a8" text-anchor="start" textLength="59.2" lengthAdjust="spacingAndGlyphs" >Ego-only</text>
<text x="421.80" y="54.50" fill="#9a00a8" text-anchor="start" textLength="69.8" lengthAdjust="spacingAndGlyphs" >LSTM-FC</text>
</g>
<g clip-path="url(#cpc)" fill="none" stroke-linejoin="round">
<path d="M50.50,294.38 L51.41,293.98 L52.31,292.97 L53.22,293.02 L54.13,292.66 L55.04,292.97 L55.95,292.58 L56.85,291.98 L57.76,291.52 L58.67,290.97 L59.58,289.96 L60.48,290.75 L61.39,290.15 L62.30,289.48 L63.20,289.21 L64.11,288.59 L65.02,288.62 L65.93,288.42 L66.84,287.17 L67.74,287.27 L68.65,287.35 L69.56,286.72 L70.47,286.25 L71.37,286.27 L72.28,285.22 L73.19,285.00 L74.09,284.75 L75.00,284.43 L75.91,283.36 L76.82,283.46 L77.72,283.27 L78.63,283.25 L79.54,282.59 L80.45,281.71 L81.36,281.12 L82.26,281.54 L83.17,281.46 L84.08,280.53 L84.98,280.23 L85.89,279.64 L86.80,279.77 L87.71,279.22 L88.62,279.46 L89.52,278.96 L90.43,278.43 L91.34,278.08 L92.25,277.46 L93.15,276.93 L94.06,277.36 L94.97,276.13 L95.88,276.50 L96.78,276.08 L97.69,275.30 L98.60,275.99 L99.50,275.39 L100.41,274.88 L101.32,274.29 L102.23,273.68 L103.13,273.35 L104.04,273.61 L104.95,272.81 L105.86,272.82 L106.77,271.95 L107.67,272.14 L108.58,271.43 L109.49,271.72 L110.39,270.88 L111.30,271.18 L112.21,270.44 L113.12,270.62 L114.03,269.87 L114.93,269.74 L115.84,269.48 L116.75,268.81 L117.66,268.34 L118.56,268.22 L119.47,267.86 L120.38,267.43 L121.28,266.97 L122.19,266.72 L123.10,266.59 L124.01,265.82 L124.91,266.24 L125.82,265.55 L126.73,265.81 L127.64,264.48 L128.55,264.93 L129.45,264.51 L130.36,263.85 L131.27,264.00 L132.18,263.89 L133.08,263.90 L133.99,263.15 L134.90,262.21 L135.81,262.48 L136.71,261.77 L137.62,261.78 L138.53,261.91 L139.44,261.96 L140.34,261.38 L141.25,260.93 L142.16,260.96 L143.06,260.64 L143.97,260.33 L144.88,260.40 L145.79,260.52 L146.69,260.01 L147.60,259.56 L148.51,259.77 L149.42,259.65 L150.32,259.44 L151.23,259.02 L152.14,258.80 L153.05,258.58 L153.95,258.73 L154.86,258.15 L155.77,258.14 L156.68,258.02 L157.58,258.08 L158.49,257.66 L159.40,257.30 L160.31,256.87 L161.22,256.58 L162.12,256.48 L163.03,256.22 L163.94,256.41 L164.84,255.65 L165.75,255.44 L166.66,255.29 L167.57,255.44 L168.47,255.13 L169.38,255.06 L170.29,255.13 L171.20,254.68 L172.10,254.86 L173.01,254.76 L173.92,253.93 L174.83,253.78 L175.74,253.55 L176.64,253.77 L177.55,253.49 L178.46,253.20 L179.37,253.32 L180.27,253.67 L181.18,252.30 L182.09,252.45 L183.00,252.32 L183.90,252.52 L184.81,252.65 L185.72,252.27 L186.62,252.08 L187.53,252.43 L188.44,252.05 L189.35,251.63 L190.25,251.23 L191.16,251.37 L192.07,251.54 L192.98,251.68 L193.88,250.60 L194.79,251.04 L195.70,250.74 L196.61,250.83 L197.51,251.12 L198.42,249.99 L199.33,250.31 L200.24,250.03 L201.14,250.50 L202.05,250.16 L202.96,249.64 L203.87,250.02 L204.78,250.01 L205.68,250.00 L206.59,249.95 L207.50,249.19 L208.41,249.32 L209.31,249.70 L210.22,248.61 L211.13,248.56 L212.03,248.46 L212.94,249.21 L213.85,248.51 L214.76,248.04 L215.66,248.59 L216.57,248.40 L217.48,248.12 L218.39,248.52 L219.29,247.76 L220.20,247.42 L221.11,247.41 L222.02,247.07 L222.92,247.37 L223.83,247.31 L224.74,247.27 L225.65,247.33 L226.56,247.35 L227.46,247.17 L228.37,246.90 L229.28,246.96 L230.19,246.69 L231.09,246.63 L232.00,246.39 L232.91,246.65 L233.81,247.03 L234.72,246.64 L235.63,245.73 L236.54,246.00 L237.44,246.26 L238.35,246.13 L239.26,246.02 L240.17,246.05 L241.07,245.78 L241.98,245.56 L242.89,245.33 L243.80,245.70 L244.70,245.60 L245.61,245.53 L246.52,245.34 L247.43,244.96 L248.34,245.40 L249.24,244.46 L250.15,244.85 L251.06,244.61 L251.97,245.11 L252.87,244.88 L253.78,244.85 L254.69,244.61 L255.59,245.14 L256.50,244.34 L257.41,244.90 L258.32,244.24 L259.23,243.99 L260.13,244.25 L261.04,244.22 L261.95,244.17 L262.86,244.13 L263.76,243.94 L264.67,243.70 L265.58,243.73 L266.49,243.43 L267.39,243.79 L268.30,243.92 L269.21,243.86 L270.12,244.04 L271.02,243.75 L271.93,243.77 L272.84,243.04 L273.75,243.36 L274.65,242.95 L275.56,243.98 L276.47,243.30 L277.38,243.05 L278.28,243.22 L279.19,243.40 L280.10,243.18 L281.00,243.17 L281.91,243.12 L282.82,243.05 L283.73,242.81 L284.63,242.98 L285.54,242.93 L286.45,242.97 L287.36,242.80 L288.26,243.10 L289.17,242.68 L290.08,242.90 L290.99,242.51 L291.89,242.88 L292.80,242.67 L293.71,242.65 L294.62,242.84 L295.52,242.19 L296.43,242.32 L297.34,242.35 L298.25,241.95 L299.15,242.33 L300.06,242.17 L300.97,241.77 L301.88,241.31 L302.78,241.92 L303.69,241.40 L304.60,241.74 L305.51,241.95 L306.41,241.50 L307.32,241.21 L308.23,241.43 L309.14,241.28 L310.05,241.65 L310.95,241.92 L311.86,241.12 L312.77,241.53 L313.68,241.07 L314.58,241.17 L315.49,240.86 L316.40,240.58 L317.31,241.24 L318.21,240.73 L319.12,240.65 L320.03,240.15 L320.94,240.44 L321.84,240.62 L322.75,240.47 L323.66,239.71 L324.56,240.41 L325.47,240.08 L326.38,239.95 L327.29,240.29 L328.19,240.13 L329.10,240.40 L330.01,240.04 L330.92,239.53 L331.82,239.61 L332.73,240.16 L333.64,239.15 L334.55,239.90 L335.45,239.75 L336.36,238.97 L337.27,239.26 L338.18,239.37 L339.08,238.88 L339.99,239.30 L340.90,239.15 L340.90,264.80 L339.99,264.85 L339.08,265.14 L338.18,264.79 L337.27,265.04 L336.36,265.32 L335.45,264.98 L334.55,265.63 L333.64,266.01 L332.73,265.88 L331.82,265.84 L330.92,266.15 L330.01,266.08 L329.10,266.22 L328.19,266.76 L327.29,267.24 L326.38,266.59 L325.47,267.26 L324.56,266.86 L323.66,266.62 L322.75,266.37 L321.84,267.16 L320.94,267.25 L320.03,266.80 L319.12,267.45 L318.21,267.06 L317.31,267.17 L316.40,266.56 L315.49,266.98 L314.58,266.01 L313.68,265.93 L312.77,266.22 L311.86,266.19 L310.95,265.43 L310.05,265.81 L309.14,265.31 L308.23,265.81 L307.32,265.83 L306.41,265.19 L305.51,264.66 L304.60,265.21 L303.69,264.56 L302.78,264.55 L301.88,264.37 L300.97,263.88 L300.06,263.39 L299.15,263.67 L298.25,263.36 L297.34,263.10 L296.43,263.23 L295.52,262.68 L294.62,262.92 L293.71,262.92 L292.80,262.22 L291.89,262.35 L290.99,261.88 L290.08,261.77 L289.17,261.71 L288.26,261.32 L287.36,261.35 L286.45,261.05 L285.54,260.68 L284.63,260.71 L283.73,260.83 L282.82,260.92 L281.91,260.88 L281.00,260.12 L280.10,260.22 L279.19,259.77 L278.28,260.36 L277.38,259.86 L276.47,259.81 L275.56,260.09 L274.65,259.62 L273.75,259.93 L272.84,259.67 L271.93,259.62 L271.02,259.51 L270.12,260.27 L269.21,260.16 L268.30,259.73 L267.39,259.86 L266.49,259.52 L265.58,260.04 L264.67,260.46 L263.76,259.84 L262.86,260.22 L261.95,259.84 L261.04,260.12 L260.13,260.11 L259.23,260.02 L258.32,260.58 L257.41,260.07 L256.50,260.28 L255.59,259.63 L254.69,260.46 L253.78,260.15 L252.87,260.53 L251.97,260.86 L251.06,260.70 L250.15,261.08 L249.24,261.27 L248.34,261.65 L247.43,262.04 L246.52,262.39 L245.61,262.01 L244.70,262.34 L243.80,262.98 L242.89,263.07 L241.98,262.70 L241.07,263.00 L240.17,263.07 L239.26,263.54 L238.35,263.53 L237.44,263.65 L236.54,263.56 L235.63,263.85 L234.72,264.09 L233.81,264.20 L232.91,265.05 L232.00,264.19 L231.09,265.07 L230.19,264.89 L229.28,265.03 L228.37,265.20 L227.46,266.10 L226.56,265.72 L225.65,265.40 L224.74,265.49 L223.83,265.66 L222.92,265.76 L222.02,266.11 L221.11,266.27 L220.20,266.50 L219.29,266.33 L218.39,266.76 L217.48,267.02 L216.57,266.29 L215.66,266.61 L214.76,267.09 L213.85,266.94 L212.94,266.69 L212.03,266.72 L211.13,267.49 L210.22,267.11 L209.31,267.07 L208.41,267.06 L207.50,267.30 L206.59,267.32 L205.68,266.61 L204.78,267.56 L203.87,266.97 L202.96,267.42 L202.05,266.92 L201.14,267.16 L200.24,267.42 L199.33,267.57 L198.42,267.52 L197.51,267.62 L196.61,267.01 L195.70,267.45 L194.79,267.55 L193.88,267.04 L192.98,267.62 L192.07,266.74 L191.16,267.29 L190.25,267.28 L189.35,267.19 L188.44,267.38 L187.53,267.10 L186.62,267.16 L185.72,267.60 L184.81,267.63 L183.90,267.51 L183.00,267.42 L182.09,268.11 L181.18,268.32 L180.27,268.15 L179.37,268.40 L178.46,268.78 L177.55,269.01 L176.64,269.39 L175.74,270.07 L174.83,269.87 L173.92,270.06 L173.01,270.28 L172.10,270.76 L171.20,270.59 L170.29,271.20 L169.38,271.78 L168.47,271.43 L167.57,272.15 L166.66,272.10 L165.75,272.50 L164.84,273.22 L163.94,273.57 L163.03,273.41 L162.12,273.59 L161.22,274.60 L160.31,274.79 L159.40,275.16 L158.49,275.31 L157.58,276.03 L156.68,276.45 L155.77,276.90 L154.86,277.48 L153.95,278.16 L153.05,278.68 L152.14,278.61 L151.23,279.54 L150.32,279.16 L149.42,279.71 L148.51,280.27 L147.60,280.53 L146.69,280.58 L145.79,281.42 L144.88,281.99 L143.97,282.71 L143.06,282.92 L142.16,283.17 L141.25,283.76 L140.34,283.91 L139.44,284.51 L138.53,284.92 L137.62,285.26 L136.71,285.21 L135.81,286.32 L134.90,286.67 L133.99,286.24 L133.08,287.61 L132.18,287.75 L131.27,288.50 L130.36,288.58 L129.45,289.25 L128.55,289.83 L127.64,290.06 L126.73,289.69 L125.82,289.96 L124.91,291.47 L124.01,291.37 L123.10,291.82 L122.19,292.07 L121.28,292.95 L120.38,293.43 L119.47,293.55 L118.56,294.40 L117.66,294.08 L116.75,295.18 L115.84,295.68 L114.93,296.45 L114.03,296.96 L113.12,297.52 L112.21,297.79 L111.30,298.49 L110.39,299.11 L109.49,300.03 L108.58,300.37 L107.67,301.18 L106.77,301.31 L105.86,302.32 L104.95,303.36 L104.04,303.59 L103.13,304.24 L102.23,304.89 L101.32,305.86 L100.41,305.95 L99.50,307.24 L98.60,308.06 L97.69,309.17 L96.78,309.52 L95.88,310.32 L94.97,311.32 L94.06,312.47 L93.15,312.76 L92.25,313.89 L91.34,315.36 L90.43,316.11 L89.52,316.85 L88.62,317.53 L87.71,318.90 L86.80,319.70 L85.89,320.28 L84.98,321.27 L84.08,322.53 L83.17,322.79 L82.26,324.28 L81.36,325.04 L80.45,326.26 L79.54,326.98 L78.63,327.67 L77.72,329.40 L76.82,329.68 L75.91,330.76 L75.00,331.68 L74.09,332.51 L73.19,333.42 L72.28,334.41 L71.37,334.90 L70.47,335.75 L69.56,337.00 L68.65,337.97 L67.74,338.96 L66.84,339.58 L65.93,340.42 L65.02,341.61 L64.11,343.31 L63.20,343.75 L62.30,344.58 L61.39,345.65 L60.48,346.32 L59.58,347.54 L58.67,348.50 L57.76,349.13 L56.85,350.76 L55.95,351.84 L55.04,352.21 L54.13,353.28 L53.22,353.72 L52.31,355.00 L51.41,355.95 L50.50,357.02Z" fill="#9a00a8" fill-opacity="0.25" stroke="none"/>
<path d="M50.50,347.88 L51.30,347.01 L52.17,346.07 L53.04,345.11 L53.91,344.16 L54.35,343.68M56.02,341.82 L56.89,340.84 L57.76,339.86 L58.63,338.88 L59.50,337.89 L59.80,337.55M61.45,335.67 L62.26,334.74 L63.14,333.75 L64.01,332.75 L64.88,331.76 L65.21,331.39M66.86,329.51 L67.71,328.54 L68.58,327.56 L69.45,326.59 L70.32,325.62 L70.66,325.26M72.35,323.42 L73.16,322.56 L74.03,321.64 L74.90,320.74 L75.77,319.85 L76.30,319.31M78.08,317.56 L78.89,316.79 L79.77,315.96 L80.64,315.16 L81.51,314.37 L82.27,313.70M84.15,312.07 L84.99,311.36 L85.87,310.65 L86.74,309.95 L87.61,309.27 L88.48,308.59 L88.58,308.51M90.56,307.04 L91.38,306.45 L92.26,305.83 L93.13,305.24 L94.00,304.65 L94.87,304.08 L95.23,303.84M97.29,302.55 L98.14,302.04 L99.01,301.53 L99.88,301.03 L100.75,300.54 L101.62,300.06 L102.19,299.76M104.34,298.66 L105.18,298.24 L106.05,297.82 L106.92,297.41 L107.80,297.01 L108.67,296.61 L109.43,296.28M111.62,295.35 L112.44,295.02 L113.31,294.67 L114.19,294.34 L115.06,294.01 L115.93,293.69 L116.80,293.38 L116.85,293.37M119.08,292.61 L119.92,292.33 L120.79,292.06 L121.67,291.78 L122.54,291.52 L123.41,291.26 L124.28,291.00 L124.41,290.96M126.64,290.33 L127.48,290.10 L128.35,289.87 L129.22,289.64 L130.09,289.42 L130.96,289.20 L131.83,288.99 L132.04,288.94M134.28,288.42 L135.10,288.25 L135.97,288.06 L136.84,287.88 L137.71,287.70 L138.59,287.52 L139.46,287.35 L139.72,287.30M141.96,286.87 L142.80,286.71 L143.67,286.54 L144.54,286.38 L145.41,286.21 L146.28,286.04 L147.15,285.87 L147.41,285.82M149.64,285.37 L150.50,285.20 L151.37,285.01 L152.24,284.83 L153.11,284.64 L153.98,284.46 L154.85,284.27 L155.07,284.22M157.29,283.72 L158.12,283.53 L158.99,283.34 L159.86,283.13 L160.73,282.93 L161.61,282.72 L162.48,282.51 L162.70,282.46M164.92,281.91 L165.75,281.69 L166.62,281.47 L167.49,281.23 L168.36,280.99 L169.23,280.75 L170.10,280.50 L170.29,280.45M172.49,279.81 L173.30,279.58 L174.17,279.32 L175.04,279.07 L175.91,278.82 L176.78,278.57 L177.65,278.33 L177.85,278.28M180.09,277.69 L180.92,277.48 L181.79,277.27 L182.67,277.06 L183.54,276.86 L184.41,276.67 L185.28,276.48 L185.50,276.43M187.75,275.96 L188.62,275.79 L189.49,275.61 L190.36,275.44 L191.23,275.27 L192.11,275.11 L192.98,274.94 L193.20,274.90M195.44,274.49 L196.24,274.34 L197.12,274.19 L197.99,274.03 L198.86,273.88 L199.73,273.72 L200.60,273.57 L200.90,273.52M203.13,273.13 L203.94,272.99 L204.81,272.85 L205.68,272.70 L206.56,272.56 L207.43,272.42 L208.30,272.28 L208.60,272.23M210.84,271.90 L211.71,271.77 L212.58,271.65 L213.46,271.53 L214.33,271.42 L215.20,271.31 L216.07,271.20 L216.33,271.17M218.57,270.92 L219.41,270.83 L220.28,270.74 L221.15,270.65 L222.02,270.57 L222.90,270.49 L223.77,270.41 L224.07,270.38M226.31,270.18 L227.11,270.12 L227.98,270.04 L228.85,269.97 L229.72,269.90 L230.59,269.83 L231.46,269.76 L231.81,269.73M234.03,269.55 L234.88,269.48 L235.75,269.41 L236.62,269.34 L237.49,269.26 L238.36,269.19 L239.23,269.11 L239.54,269.08M241.76,268.88 L242.58,268.80 L243.45,268.72 L244.32,268.63 L245.19,268.54 L246.06,268.45 L246.93,268.36 L247.25,268.33M249.48,268.09 L250.35,268.00 L251.22,267.90 L252.09,267.80 L252.96,267.71 L253.83,267.61 L254.70,267.51 L254.97,267.48M257.20,267.22 L258.04,267.12 L258.91,267.02 L259.79,266.92 L260.66,266.82 L261.53,266.71 L262.40,266.61 L262.69,266.57M264.92,266.30 L265.74,266.20 L266.61,266.10 L267.48,265.99 L268.35,265.88 L269.23,265.78 L270.10,265.67 L270.41,265.63M272.64,265.36 L273.44,265.26 L274.31,265.15 L275.18,265.04 L276.05,264.93 L276.92,264.83 L277.79,264.72 L278.12,264.68M280.35,264.39 L281.21,264.29 L282.08,264.18 L282.95,264.06 L283.82,263.95 L284.69,263.84 L285.56,263.73 L285.84,263.69M288.07,263.39 L288.91,263.28 L289.78,263.16 L290.65,263.04 L291.52,262.92 L292.39,262.80 L293.26,262.68 L293.55,262.64M295.78,262.32 L296.60,262.20 L297.47,262.07 L298.35,261.95 L299.22,261.82 L300.09,261.68 L300.96,261.55 L301.26,261.51M303.48,261.16 L304.30,261.03 L305.17,260.89 L306.04,260.75 L306.91,260.60 L307.79,260.44 L308.66,260.29 L308.95,260.23M311.16,259.80 L312.00,259.62 L312.87,259.42 L313.74,259.23 L314.61,259.01 L315.48,258.79 L316.36,258.55 L316.56,258.49M318.74,257.86 L319.55,257.60 L320.42,257.32 L321.29,257.03 L322.16,256.74 L323.04,256.43 L323.91,256.12 L324.03,256.08M326.20,255.28 L327.03,254.96 L327.90,254.63 L328.77,254.28 L329.64,253.94 L330.52,253.58 L331.39,253.22 L331.39,253.22M333.54,252.30 L334.36,251.94 L335.24,251.55 L336.11,251.16 L336.98,250.76 L337.85,250.35 L338.64,249.98M340.77,248.97 L340.90,248.90" stroke="#7f7f7f" stroke-width="2.0"/>
<path d="M50.50,268.14 L52.31,268.18 L54.13,268.22 L55.95,268.26 L57.76,268.30 L59.58,268.34 L61.39,268.38 L63.20,268.43 L65.02,268.47 L66.84,268.51 L68.65,268.56 L70.47,268.60 L72.28,268.64 L74.09,268.69 L75.91,268.73 L77.72,268.78 L79.54,268.82 L81.36,268.87 L83.17,268.91 L84.98,268.96 L86.80,269.01 L88.62,269.05 L90.43,269.11 L92.25,269.16 L94.06,269.21 L95.88,269.27 L97.69,269.32 L99.50,269.38 L101.32,269.43 L103.13,269.49 L104.95,269.54 L106.77,269.59 L108.58,269.64 L110.39,269.69 L112.21,269.74 L114.03,269.78 L115.84,269.81 L117.66,269.85 L119.47,269.88 L121.28,269.91 L123.10,269.93 L124.91,269.96 L126.73,269.98 L128.55,270.01 L130.36,270.03 L132.18,270.05 L133.99,270.08 L135.81,270.09 L137.62,270.11 L139.44,270.12 L141.25,270.14 L143.06,270.14 L144.88,270.15 L146.69,270.16 L148.51,270.16 L150.32,270.16 L152.14,270.16 L153.95,270.16 L155.77,270.16 L157.58,270.16 L159.40,270.16 L161.22,270.16 L163.03,270.16 L164.84,270.16 L166.66,270.16 L168.47,270.16 L170.29,270.16 L172.10,270.16 L173.92,270.16 L175.74,270.16 L177.55,270.16 L179.37,270.15 L181.18,270.14 L183.00,270.12 L184.81,270.09 L186.62,270.05 L188.44,270.00 L190.25,269.95 L192.07,269.89 L193.88,269.82 L195.70,269.76 L197.51,269.70 L199.33,269.64 L201.14,269.58 L202.96,269.54 L204.78,269.50 L206.59,269.47 L208.41,269.46 L210.22,269.45 L212.03,269.46 L213.85,269.47 L215.66,269.48 L217.48,269.50 L219.29,269.52 L221.11,269.55 L222.92,269.58 L224.74,269.62 L226.56,269.66 L228.37,269.71 L230.19,269.78 L232.00,269.86 L233.81,269.97 L235.63,270.10 L237.44,270.24 L239.26,270.40 L241.07,270.57 L242.89,270.74 L244.70,270.93 L246.52,271.12 L248.34,271.31 L250.15,271.52 L251.97,271.75 L253.78,271.99 L255.59,272.25 L257.41,272.54 L259.23,272.85 L261.04,273.19 L262.86,273.56 L264.67,273.94 L266.49,274.34 L268.30,274.73 L270.12,275.11 L271.93,275.49 L273.75,275.85 L275.56,276.21 L277.38,276.56 L279.19,276.89 L281.00,277.20 L282.82,277.50 L284.63,277.77 L286.45,278.02 L288.26,278.26 L290.08,278.47 L291.89,278.67 L293.71,278.85 L295.52,278.99 L297.34,279.11 L299.15,279.20 L300.97,279.26 L302.78,279.30 L304.60,279.33 L306.41,279.35 L308.23,279.37 L310.05,279.39 L311.86,279.39 L313.68,279.40 L315.49,279.40 L317.31,279.39 L319.12,279.38 L320.94,279.37 L322.75,279.36 L324.56,279.33 L326.38,279.31 L328.19,279.28 L330.01,279.25 L331.82,279.21 L333.64,279.17 L335.45,279.13 L337.27,279.08 L339.08,279.03 L340.90,278.97" stroke="#e10000" stroke-width="2.1"/>
<path d="M50.50,294.38 L51.41,293.98 L52.31,292.97 L53.22,293.02 L54.13,292.66 L55.04,292.97 L55.95,292.58 L56.85,291.98 L57.76,291.52 L58.67,290.97 L59.58,289.96 L60.48,290.75 L61.39,290.15 L62.30,289.48 L63.20,289.21 L64.11,288.59 L65.02,288.62 L65.93,288.42 L66.84,287.17 L67.74,287.27 L68.65,287.35 L69.56,286.72 L70.47,286.25 L71.37,286.27 L72.28,285.22 L73.19,285.00 L74.09,284.75 L75.00,284.43 L75.91,283.36 L76.82,283.46 L77.72,283.27 L78.63,283.25 L79.54,282.59 L80.45,281.71 L81.36,281.12 L82.26,281.54 L83.17,281.46 L84.08,280.53 L84.98,280.23 L85.89,279.64 L86.80,279.77 L87.71,279.22 L88.62,279.46 L89.52,278.96 L90.43,278.43 L91.34,278.08 L92.25,277.46 L93.15,276.93 L94.06,277.36 L94.97,276.13 L95.88,276.50 L96.78,276.08 L97.69,275.30 L98.60,275.99 L99.50,275.39 L100.41,274.88 L101.32,274.29 L102.23,273.68 L103.13,273.35 L104.04,273.61 L104.95,272.81 L105.86,272.82 L106.77,271.95 L107.67,272.14 L108.58,271.43 L109.49,271.72 L110.39,270.88 L111.30,271.18 L112.21,270.44 L113.12,270.62 L114.03,269.87 L114.93,269.74 L115.84,269.48 L116.75,268.81 L117.66,268.34 L118.56,268.22 L119.47,267.86 L120.38,267.43 L121.28,266.97 L122.19,266.72 L123.10,266.59 L124.01,265.82 L124.91,266.24 L125.82,265.55 L126.73,265.81 L127.64,264.48 L128.55,264.93 L129.45,264.51 L130.36,263.85 L131.27,264.00 L132.18,263.89 L133.08,263.90 L133.99,263.15 L134.90,262.21 L135.81,262.48 L136.71,261.77 L137.62,261.78 L138.53,261.91 L139.44,261.96 L140.34,261.38 L141.25,260.93 L142.16,260.96 L143.06,260.64 L143.97,260.33 L144.88,260.40 L145.79,260.52 L146.69,260.01 L147.60,259.56 L148.51,259.77 L149.42,259.65 L150.32,259.44 L151.23,259.02 L152.14,258.80 L153.05,258.58 L153.95,258.73 L154.86,258.15 L155.77,258.14 L156.68,258.02 L157.58,258.08 L158.49,257.66 L159.40,257.30 L160.31,256.87 L161.22,256.58 L162.12,256.48 L163.03,256.22 L163.94,256.41 L164.84,255.65 L165.75,255.44 L166.66,255.29 L167.57,255.44 L168.47,255.13 L169.38,255.06 L170.29,255.13 L171.20,254.68 L172.10,254.86 L173.01,254.76 L173.92,253.93 L174.83,253.78 L175.74,253.55 L176.64,253.77 L177.55,253.49 L178.46,253.20 L179.37,253.32 L180.27,253.67 L181.18,252.30 L182.09,252.45 L183.00,252.32 L183.90,252.52 L184.81,252.65 L185.72,252.27 L186.62,252.08 L187.53,252.43 L188.44,252.05 L189.35,251.63 L190.25,251.23 L191.16,251.37 L192.07,251.54 L192.98,251.68 L193.88,250.60 L194.79,251.04 L195.70,250.74 L196.61,250.83 L197.51,251.12 L198.42,249.99 L199.33,250.31 L200.24,250.03 L201.14,250.50 L202.05,250.16 L202.96,249.64 L203.87,250.02 L204.78,250.01 L205.68,250.00 L206.59,249.95 L207.50,249.19 L208.41,249.32 L209.31,249.70 L210.22,248.61 L211.13,248.56 L212.03,248.46 L212.94,249.21 L213.85,248.51 L214.76,248.04 L215.66,248.59 L216.57,248.40 L217.48,248.12 L218.39,248.52 L219.29,247.76 L220.20,247.42 L221.11,247.41 L222.02,247.07 L222.92,247.37 L223.83,247.31 L224.74,247.27 L225.65,247.33 L226.56,247.35 L227.46,247.17 L228.37,246.90 L229.28,246.96 L230.19,246.69 L231.09,246.63 L232.00,246.39 L232.91,246.65 L233.81,247.03 L234.72,246.64 L235.63,245.73 L236.54,246.00 L237.44,246.26 L238.35,246.13 L239.26,246.02 L240.17,246.05 L241.07,245.78 L241.98,245.56 L242.89,245.33 L243.80,245.70 L244.70,245.60 L245.61,245.53 L246.52,245.34 L247.43,244.96 L248.34,245.40 L249.24,244.46 L250.15,244.85 L251.06,244.61 L251.97,245.11 L252.87,244.88 L253.78,244.85 L254.69,244.61 L255.59,245.14 L256.50,244.34 L257.41,244.90 L258.32,244.24 L259.23,243.99 L260.13,244.25 L261.04,244.22 L261.95,244.17 L262.86,244.13 L263.76,243.94 L264.67,243.70 L265.58,243.73 L266.49,243.43 L267.39,243.79 L268.30,243.92 L269.21,243.86 L270.12,244.04 L271.02,243.75 L271.93,243.77 L272.84,243.04 L273.75,243.36 L274.65,242.95 L275.56,243.98 L276.47,243.30 L277.38,243.05 L278.28,243.22 L279.19,243.40 L280.10,243.18 L281.00,243.17 L281.91,243.12 L282.82,243.05 L283.73,242.81 L284.63,242.98 L285.54,242.93 L286.45,242.97 L287.36,242.80 L288.26,243.10 L289.17,242.68 L290.08,242.90 L290.99,242.51 L291.89,242.88 L292.80,242.67 L293.71,242.65 L294.62,242.84 L295.52,242.19 L296.43,242.32 L297.34,242.35 L298.25,241.95 L299.15,242.33 L300.06,242.17 L300.97,241.77 L301.88,241.31 L302.78,241.92 L303.69,241.40 L304.60,241.74 L305.51,241.95 L306.41,241.50 L307.32,241.21 L308.23,241.43 L309.14,241.28 L310.05,241.65 L310.95,241.92 L311.86,241.12 L312.77,241.53 L313.68,241.07 L314.58,241.17 L315.49,240.86 L316.40,240.58 L317.31,241.24 L318.21,240.73 L319.12,240.65 L320.03,240.15 L320.94,240.44 L321.84,240.62 L322.75,240.47 L323.66,239.71 L324.56,240.41 L325.47,240.08 L326.38,239.95 L327.29,240.29 L328.19,240.13 L329.10,240.40 L330.01,240.04 L330.92,239.53 L331.82,239.61 L332.73,240.16 L333.64,239.15 L334.55,239.90 L335.45,239.75 L336.36,238.97 L337.27,239.26 L338.18,239.37 L339.08,238.88 L339.99,239.30 L340.90,239.15" stroke="#9a00a8" stroke-width="1.2"/>
<path d="M50.50,357.02 L51.41,355.95 L52.31,355.00 L53.22,353.72 L54.13,353.28 L55.04,352.21 L55.95,351.84 L56.85,350.76 L57.76,349.13 L58.67,348.50 L59.58,347.54 L60.48,346.32 L61.39,345.65 L62.30,344.58 L63.20,343.75 L64.11,343.31 L65.02,341.61 L65.93,340.42 L66.84,339.58 L67.74,338.96 L68.65,337.97 L69.56,337.00 L70.47,335.75 L71.37,334.90 L72.28,334.41 L73.19,333.42 L74.09,332.51 L75.00,331.68 L75.91,330.76 L76.82,329.68 L77.72,329.40 L78.63,327.67 L79.54,326.98 L80.45,326.26 L81.36,325.04 L82.26,324.28 L83.17,322.79 L84.08,322.53 L84.98,321.27 L85.89,320.28 L86.80,319.70 L87.71,318.90 L88.62,317.53 L89.52,316.85 L90.43,316.11 L91.34,315.36 L92.25,313.89 L93.15,312.76 L94.06,312.47 L94.97,311.32 L95.88,310.32 L96.78,309.52 L97.69,309.17 L98.60,308.06 L99.50,307.24 L100.41,305.95 L101.32,305.86 L102.23,304.89 L103.13,304.24 L104.04,303.59 L104.95,303.36 L105.86,302.32 L106.77,301.31 L107.67,301.18 L108.58,300.37 L109.49,300.03 L110.39,299.11 L111.30,298.49 L112.21,297.79 L113.12,297.52 L114.03,296.96 L114.93,296.45 L115.84,295.68 L116.75,295.18 L117.66,294.08 L118.56,294.40 L119.47,293.55 L120.38,293.43 L121.28,292.95 L122.19,292.07 L123.10,291.82 L124.01,291.37 L124.91,291.47 L125.82,289.96 L126.73,289.69 L127.64,290.06 L128.55,289.83 L129.45,289.25 L130.36,288.58 L131.27,288.50 L132.18,287.75 L133.08,287.61 L133.99,286.24 L134.90,286.67 L135.81,286.32 L136.71,285.21 L137.62,285.26 L138.53,284.92 L139.44,284.51 L140.34,283.91 L141.25,283.76 L142.16,283.17 L143.06,282.92 L143.97,282.71 L144.88,281.99 L145.79,281.42 L146.69,280.58 L147.60,280.53 L148.51,280.27 L149.42,279.71 L150.32,279.16 L151.23,279.54 L152.14,278.61 L153.05,278.68 L153.95,278.16 L154.86,277.48 L155.77,276.90 L156.68,276.45 L157.58,276.03 L158.49,275.31 L159.40,275.16 L160.31,274.79 L161.22,274.60 L162.12,273.59 L163.03,273.41 L163.94,273.57 L164.84,273.22 L165.75,272.50 L166.66,272.10 L167.57,272.15 L168.47,271.43 L169.38,271.78 L170.29,271.20 L171.20,270.59 L172.10,270.76 L173.01,270.28 L173.92,270.06 L174.83,269.87 L175.74,270.07 L176.64,269.39 L177.55,269.01 L178.46,268.78 L179.37,268.40 L180.27,268.15 L181.18,268.32 L182.09,268.11 L183.00,267.42 L183.90,267.51 L184.81,267.63 L185.72,267.60 L186.62,267.16 L187.53,267.10 L188.44,267.38 L189.35,267.19 L190.25,267.28 L191.16,267.29 L192.07,266.74 L192.98,267.62 L193.88,267.04 L194.79,267.55 L195.70,267.45 L196.61,267.01 L197.51,267.62 L198.42,267.52 L199.33,267.57 L200.24,267.42 L201.14,267.16 L202.05,266.92 L202.96,267.42 L203.87,266.97 L204.78,267.56 L205.68,266.61 L206.59,267.32 L207.50,267.30 L208.41,267.06 L209.31,267.07 L210.22,267.11 L211.13,267.49 L212.03,266.72 L212.94,266.69 L213.85,266.94 L214.76,267.09 L215.66,266.61 L216.57,266.29 L217.48,267.02 L218.39,266.76 L219.29,266.33 L220.20,266.50 L221.11,266.27 L222.02,266.11 L222.92,265.76 L223.83,265.66 L224.74,265.49 L225.65,265.40 L226.56,265.72 L227.46,266.10 L228.37,265.20 L229.28,265.03 L230.19,264.89 L231.09,265.07 L232.00,264.19 L232.91,265.05 L233.81,264.20 L234.72,264.09 L235.63,263.85 L236.54,263.56 L237.44,263.65 L238.35,263.53 L239.26,263.54 L240.17,263.07 L241.07,263.00 L241.98,262.70 L242.89,263.07 L243.80,262.98 L244.70,262.34 L245.61,262.01 L246.52,262.39 L247.43,262.04 L248.34,261.65 L249.24,261.27 L250.15,261.08 L251.06,260.70 L251.97,260.86 L252.87,260.53 L253.78,260.15 L254.69,260.46 L255.59,259.63 L256.50,260.28 L257.41,260.07 L258.32,260.58 L259.23,260.02 L260.13,260.11 L261.04,260.12 L261.95,259.84 L262.86,260.22 L263.76,259.84 L264.67,260.46 L265.58,260.04 L266.49,259.52 L267.39,259.86 L268.30,259.73 L269.21,260.16 L270.12,260.27 L271.02,259.51 L271.93,259.62 L272.84,259.67 L273.75,259.93 L274.65,259.62 L275.56,260.09 L276.47,259.81 L277.38,259.86 L278.28,260.36 L279.19,259.77 L280.10,260.22 L281.00,260.12 L281.91,260.88 L282.82,260.92 L283.73,260.83 L284.63,260.71 L285.54,260.68 L286.45,261.05 L287.36,261.35 L288.26,261.32 L289.17,261.71 L290.08,261.77 L290.99,261.88 L291.89,262.35 L292.80,262.22 L293.71,262.92 L294.62,262.92 L295.52,262.68 L296.43,263.23 L297.34,263.10 L298.25,263.36 L299.15,263.67 L300.06,263.39 L300.97,263.88 L301.88,264.37 L302.78,264.55 L303.69,264.56 L304.60,265.21 L305.51,264.66 L306.41,265.19 L307.32,265.83 L308.23,265.81 L309.14,265.31 L310.05,265.81 L310.95,265.43 L311.86,266.19 L312.77,266.22 L313.68,265.93 L314.58,266.01 L315.49,266.98 L316.40,266.56 L317.31,267.17 L318.21,267.06 L319.12,267.45 L320.03,266.80 L320.94,267.25 L321.84,267.16 L322.75,266.37 L323.66,266.62 L324.56,266.86 L325.47,267.26 L326.38,266.59 L327.29,267.24 L328.19,266.76 L329.10,266.22 L330.01,266.08 L330.92,266.15 L331.82,265.84 L332.73,265.88 L333.64,266.01 L334.55,265.63 L335.45,264.98 L336.36,265.32 L337.27,265.04 L338.18,264.79 L339.08,265.14 L339.99,264.85 L340.90,264.80" stroke="#9a00a8" stroke-width="1.2"/>
<path d="M50.50,323.66 L51.41,323.58 L52.31,323.49 L53.22,323.23 L54.13,322.61 L55.04,322.23 L55.95,321.89 L56.85,321.50 L57.76,320.93 L58.67,320.46 L59.58,319.83 L60.48,319.33 L61.39,318.79 L62.30,318.09 L63.20,317.25 L64.11,316.34 L65.02,316.04 L65.93,315.38 L66.84,314.40 L67.74,313.70 L68.65,313.23 L69.56,312.51 L70.47,311.82 L71.37,310.98 L72.28,309.86 L73.19,309.76 L74.09,308.91 L75.00,308.35 L75.91,307.56 L76.82,306.84 L77.72,306.18 L78.63,305.71 L79.54,305.04 L80.45,304.07 L81.36,303.52 L82.26,302.88 L83.17,302.18 L84.08,301.76 L84.98,300.83 L85.89,300.52 L86.80,299.95 L87.71,299.33 L88.62,298.60 L89.52,297.57 L90.43,297.39 L91.34,296.76 L92.25,295.99 L93.15,295.72 L94.06,295.31 L94.97,294.63 L95.88,294.05 L96.78,293.70 L97.69,292.95 L98.60,292.37 L99.50,291.56 L100.41,291.25 L101.32,290.85 L102.23,290.46 L103.13,290.02 L104.04,289.71 L104.95,288.98 L105.86,288.84 L106.77,288.05 L107.67,287.31 L108.58,287.17 L109.49,286.59 L110.39,286.33 L111.30,286.02 L112.21,285.22 L113.12,284.84 L114.03,284.26 L114.93,283.84 L115.84,283.30 L116.75,282.99 L117.66,282.37 L118.56,281.82 L119.47,281.60 L120.38,281.10 L121.28,280.42 L122.19,280.05 L123.10,279.72 L124.01,279.48 L124.91,278.86 L125.82,278.16 L126.73,278.06 L127.64,277.62 L128.55,277.35 L129.45,276.86 L130.36,276.48 L131.27,276.08 L132.18,275.87 L133.08,275.60 L133.99,274.76 L134.90,274.72 L135.81,274.54 L136.71,274.10 L137.62,273.66 L138.53,273.23 L139.44,273.02 L140.34,272.78 L141.25,272.32 L142.16,272.27 L143.06,271.87 L143.97,271.20 L144.88,271.03 L145.79,270.74 L146.69,270.50 L147.60,270.26 L148.51,269.72 L149.42,269.44 L150.32,268.86 L151.23,268.95 L152.14,268.52 L153.05,268.27 L153.95,268.06 L154.86,267.34 L155.77,267.12 L156.68,267.02 L157.58,266.97 L158.49,266.42 L159.40,266.12 L160.31,266.01 L161.22,265.89 L162.12,265.10 L163.03,265.32 L163.94,264.68 L164.84,264.70 L165.75,264.40 L166.66,263.94 L167.57,264.03 L168.47,263.67 L169.38,263.40 L170.29,262.98 L171.20,262.78 L172.10,262.70 L173.01,262.69 L173.92,262.10 L174.83,262.14 L175.74,261.83 L176.64,261.96 L177.55,261.50 L178.46,261.20 L179.37,261.14 L180.27,260.81 L181.18,260.53 L182.09,260.32 L183.00,260.49 L183.90,260.50 L184.81,260.50 L185.72,260.04 L186.62,260.12 L187.53,259.69 L188.44,259.98 L189.35,259.40 L190.25,259.47 L191.16,259.65 L192.07,259.28 L192.98,259.17 L193.88,259.11 L194.79,259.14 L195.70,258.98 L196.61,258.94 L197.51,259.02 L198.42,258.89 L199.33,259.05 L200.24,258.67 L201.14,258.93 L202.05,258.70 L202.96,258.79 L203.87,258.38 L204.78,258.43 L205.68,258.54 L206.59,258.25 L207.50,258.24 L208.41,258.01 L209.31,258.02 L210.22,257.93 L211.13,257.86 L212.03,257.97 L212.94,257.54 L213.85,257.38 L214.76,257.54 L215.66,257.20 L216.57,256.98 L217.48,256.91 L218.39,256.73 L219.29,256.67 L220.20,256.76 L221.11,256.24 L222.02,256.45 L222.92,256.44 L223.83,256.01 L224.74,256.23 L225.65,255.87 L226.56,256.01 L227.46,255.59 L228.37,255.45 L229.28,255.61 L230.19,255.33 L231.09,255.20 L232.00,255.21 L232.91,255.00 L233.81,254.98 L234.72,254.95 L235.63,254.89 L236.54,254.58 L237.44,254.43 L238.35,254.27 L239.26,254.21 L240.17,254.07 L241.07,254.12 L241.98,253.68 L242.89,253.96 L243.80,253.59 L244.70,253.62 L245.61,253.52 L246.52,253.04 L247.43,253.16 L248.34,253.31 L249.24,252.96 L250.15,252.98 L251.06,252.52 L251.97,252.84 L252.87,252.62 L253.78,252.64 L254.69,252.58 L255.59,252.32 L256.50,252.20 L257.41,252.14 L258.32,252.33 L259.23,252.37 L260.13,252.18 L261.04,252.31 L261.95,252.00 L262.86,252.45 L263.76,252.16 L264.67,252.42 L265.58,252.39 L266.49,252.48 L267.39,252.43 L268.30,252.15 L269.21,252.35 L270.12,252.40 L271.02,252.43 L271.93,252.38 L272.84,252.31 L273.75,252.11 L274.65,252.24 L275.56,252.26 L276.47,252.27 L277.38,252.15 L278.28,252.41 L279.19,252.22 L280.10,252.45 L281.00,252.45 L281.91,252.20 L282.82,252.30 L283.73,252.36 L284.63,252.49 L285.54,252.29 L286.45,252.04 L287.36,252.31 L288.26,252.33 L289.17,252.46 L290.08,252.29 L290.99,252.56 L291.89,252.08 L292.80,252.54 L293.71,252.62 L294.62,252.49 L295.52,252.91 L296.43,252.92 L297.34,253.00 L298.25,253.01 L299.15,252.79 L300.06,253.30 L300.97,252.87 L301.88,253.20 L302.78,253.20 L303.69,253.51 L304.60,253.87 L305.51,253.91 L306.41,253.60 L307.32,253.94 L308.23,253.90 L309.14,253.98 L310.05,253.85 L310.95,253.93 L311.86,254.12 L312.77,254.20 L313.68,254.10 L314.58,254.44 L315.49,254.40 L316.40,254.51 L317.31,254.45 L318.21,254.54 L319.12,254.16 L320.03,254.30 L320.94,253.95 L321.84,254.23 L322.75,254.08 L323.66,254.14 L324.56,253.88 L325.47,253.83 L326.38,253.89 L327.29,253.70 L328.19,253.77 L329.10,253.64 L330.01,253.61 L330.92,253.21 L331.82,253.37 L332.73,253.28 L333.64,252.83 L334.55,252.87 L335.45,252.92 L336.36,252.74 L337.27,252.52 L338.18,252.44 L339.08,252.13 L339.99,252.14 L340.90,251.98" stroke="#9a00a8" stroke-width="2.2"/>
</g>
<path d="M86.44,347.90v-7.4M86.44,203.40v7.4M122.87,347.90v-7.4M122.87,203.40v7.4M159.31,347.90v-7.4M159.31,203.40v7.4M195.74,347.90v-7.4M195.74,203.40v7.4M232.18,347.90v-7.4M232.18,203.40v7.4M268.61,347.90v-7.4M268.61,203.40v7.4M305.04,347.90v-7.4M305.04,203.40v7.4M50.50,319.42h7.4M340.90,319.42h-7.4M50.50,290.24h7.4M340.90,290.24h-7.4M50.50,261.06h7.4M340.90,261.06h-7.4M50.50,231.88h7.4M340.90,231.88h-7.4" stroke="#1a1a1a" stroke-width="1" fill="none"/>
<rect x="50.5" y="203.4" width="290.4" height="144.5" fill="none" stroke="#1a1a1a" stroke-width="1.1"/>
<g font-family="Liberation Serif, serif" font-size="16" fill="#111">
<text x="49.90" y="367.00" fill="#111" text-anchor="middle" >0</text>
<text x="122.77" y="367.00" fill="#111" text-anchor="middle" >10</text>
<text x="195.64" y="367.00" fill="#111" text-anchor="middle" >20</text>
<text x="268.51" y="367.00" fill="#111" text-anchor="middle" >30</text>
<text x="341.38" y="367.00" fill="#111" text-anchor="middle" >40</text>
<text x="42.90" y="353.70" fill="#111" text-anchor="end" >0</text>
<text x="42.90" y="324.52" fill="#111" text-anchor="end" >2</text>
<text x="42.90" y="295.34" fill="#111" text-anchor="end" >4</text>
<text x="42.90" y="266.16" fill="#111" text-anchor="end" >6</text>
<text x="42.90" y="236.98" fill="#111" text-anchor="end" >8</text>
<text x="42.90" y="207.80" fill="#111" text-anchor="end" >10</text>
<text x="196.20" y="383.70" fill="#111" text-anchor="middle" textLength="89.5" lengthAdjust="spacingAndGlyphs" >horizon, <tspan font-style="italic">θ</tspan> (s)</text>
<text transform="translate(12.00,357.10) rotate(-90)" textLength="52.6" lengthAdjust="spacingAndGlyphs">velocity</text>
<text transform="translate(12.00,299.10) rotate(-90)" textLength="35.3" lengthAdjust="spacingAndGlyphs">error,</text>
<text transform="translate(12.00,255.90) rotate(-90)" textLength="19.7" lengthAdjust="spacingAndGlyphs">VE</text>
<text transform="translate(12.00,230.30) rotate(-90)" textLength="37.6" lengthAdjust="spacingAndGlyphs">(m/s)</text>
<text x="310.30" y="331.60" fill="#111" text-anchor="start" >(c)</text>
</g>
<g font-family="Liberation Serif, serif" font-size="16">
<text x="284.80" y="295.70" fill="#e10000" text-anchor="start" textLength="44" lengthAdjust="spacingAndGlyphs" >Newell</text>
<text x="104.70" y="316.60" fill="#868686" text-anchor="start" textLength="56" lengthAdjust="spacingAndGlyphs" >constant</text>
<text x="151.30" y="240.70" fill="#9a00a8" text-anchor="start" textLength="90.4" lengthAdjust="spacingAndGlyphs" >VelLSTM-FC</text>
</g>
<g clip-path="url(#cpd)" fill="none" stroke-linejoin="round">
<path d="M410.60,322.18 L411.51,321.44 L412.42,321.03 L413.32,321.00 L414.23,320.21 L415.14,319.87 L416.05,318.77 L416.95,318.64 L417.86,318.03 L418.77,317.10 L419.68,316.75 L420.58,316.56 L421.49,316.39 L422.40,315.75 L423.31,315.59 L424.21,314.29 L425.12,314.37 L426.03,313.69 L426.94,313.38 L427.84,313.17 L428.75,312.38 L429.66,311.84 L430.56,311.41 L431.47,310.83 L432.38,310.13 L433.29,309.88 L434.20,309.02 L435.10,308.47 L436.01,307.90 L436.92,306.98 L437.83,306.95 L438.73,306.04 L439.64,305.03 L440.55,303.86 L441.46,303.45 L442.36,303.14 L443.27,301.86 L444.18,301.57 L445.09,301.16 L445.99,300.38 L446.90,299.31 L447.81,298.91 L448.72,298.76 L449.62,298.29 L450.53,297.28 L451.44,297.23 L452.35,296.51 L453.25,295.66 L454.16,295.65 L455.07,295.08 L455.98,294.30 L456.88,293.96 L457.79,293.04 L458.70,292.94 L459.61,292.31 L460.51,291.84 L461.42,291.73 L462.33,290.89 L463.24,290.31 L464.14,290.29 L465.05,289.96 L465.96,289.45 L466.87,288.56 L467.77,288.55 L468.68,288.28 L469.59,288.11 L470.50,287.40 L471.40,287.41 L472.31,286.45 L473.22,286.61 L474.12,286.45 L475.03,285.55 L475.94,285.47 L476.85,285.19 L477.75,285.36 L478.66,284.68 L479.57,284.61 L480.48,284.47 L481.38,284.09 L482.29,283.88 L483.20,284.04 L484.11,283.43 L485.01,283.58 L485.92,283.61 L486.83,283.28 L487.74,283.26 L488.65,282.77 L489.55,283.01 L490.46,283.01 L491.37,282.86 L492.28,282.53 L493.18,283.09 L494.09,282.92 L495.00,282.53 L495.91,282.23 L496.81,282.09 L497.72,282.26 L498.63,282.52 L499.54,282.58 L500.44,281.94 L501.35,281.91 L502.26,281.61 L503.17,281.30 L504.07,281.70 L504.98,280.95 L505.89,281.33 L506.80,281.13 L507.70,280.90 L508.61,281.34 L509.52,280.02 L510.43,280.64 L511.33,280.13 L512.24,280.52 L513.15,280.68 L514.06,280.45 L514.96,280.40 L515.87,280.57 L516.78,280.71 L517.69,279.78 L518.59,280.17 L519.50,279.94 L520.41,279.65 L521.32,280.17 L522.22,280.05 L523.13,279.81 L524.04,280.03 L524.95,280.12 L525.85,280.50 L526.76,280.55 L527.67,280.14 L528.58,280.47 L529.48,280.20 L530.39,280.31 L531.30,280.45 L532.21,280.43 L533.11,280.61 L534.02,280.40 L534.93,281.38 L535.84,281.05 L536.74,280.81 L537.65,280.49 L538.56,281.48 L539.47,281.22 L540.37,281.01 L541.28,280.82 L542.19,281.36 L543.10,281.86 L544.00,281.24 L544.91,281.16 L545.82,281.29 L546.73,281.33 L547.63,281.31 L548.54,281.71 L549.45,281.36 L550.36,281.30 L551.26,281.54 L552.17,281.78 L553.08,281.71 L553.99,281.34 L554.89,281.71 L555.80,281.16 L556.71,281.44 L557.62,281.55 L558.52,281.22 L559.43,281.44 L560.34,280.81 L561.25,280.98 L562.15,281.55 L563.06,281.42 L563.97,281.85 L564.88,281.03 L565.78,281.09 L566.69,281.12 L567.60,281.52 L568.50,280.64 L569.41,280.67 L570.32,281.08 L571.23,281.07 L572.13,280.96 L573.04,280.52 L573.95,280.56 L574.86,280.60 L575.76,280.55 L576.67,280.77 L577.58,280.46 L578.49,280.67 L579.39,279.80 L580.30,279.99 L581.21,279.87 L582.12,279.88 L583.02,279.93 L583.93,280.12 L584.84,279.67 L585.75,279.47 L586.65,279.33 L587.56,278.85 L588.47,278.72 L589.38,279.14 L590.29,278.99 L591.19,278.34 L592.10,279.12 L593.01,278.45 L593.91,278.03 L594.82,278.08 L595.73,278.12 L596.64,277.68 L597.55,277.90 L598.45,277.84 L599.36,277.41 L600.27,277.38 L601.17,277.06 L602.08,276.76 L602.99,276.58 L603.90,277.52 L604.81,276.62 L605.71,276.43 L606.62,276.22 L607.53,276.42 L608.44,276.29 L609.34,275.97 L610.25,276.16 L611.16,276.27 L612.07,275.47 L612.97,275.33 L613.88,275.71 L614.79,274.92 L615.70,275.32 L616.60,274.80 L617.51,275.10 L618.42,274.57 L619.33,274.59 L620.23,274.35 L621.14,273.91 L622.05,273.63 L622.96,273.87 L623.86,272.95 L624.77,273.39 L625.68,273.37 L626.59,272.77 L627.49,271.90 L628.40,272.31 L629.31,272.29 L630.22,271.82 L631.12,271.24 L632.03,270.87 L632.94,270.58 L633.85,270.07 L634.75,269.45 L635.66,269.62 L636.57,269.15 L637.48,268.87 L638.38,268.38 L639.29,267.76 L640.20,267.61 L641.11,267.63 L642.01,266.74 L642.92,266.23 L643.83,266.29 L644.74,265.53 L645.64,265.52 L646.55,266.00 L647.46,265.52 L648.37,265.53 L649.27,265.21 L650.18,265.17 L651.09,264.75 L652.00,264.52 L652.90,265.16 L653.81,264.28 L654.72,264.45 L655.62,264.04 L656.53,264.32 L657.44,264.79 L658.35,264.09 L659.25,263.86 L660.16,263.76 L661.07,263.79 L661.98,263.97 L662.88,263.83 L663.79,263.70 L664.70,263.65 L665.61,263.24 L666.51,263.03 L667.42,262.80 L668.33,262.80 L669.24,262.82 L670.14,262.49 L671.05,262.53 L671.96,262.67 L672.87,261.99 L673.78,262.10 L674.68,261.94 L675.59,261.40 L676.50,261.40 L677.40,261.17 L678.31,260.59 L679.22,260.60 L680.13,260.47 L681.04,260.46 L681.94,260.85 L682.85,260.76 L683.76,260.13 L684.66,259.01 L685.57,259.53 L686.48,259.45 L687.39,259.01 L688.30,258.71 L689.20,258.80 L690.11,258.64 L691.02,258.60 L691.92,258.73 L692.83,258.71 L693.74,259.13 L694.65,258.45 L695.56,258.40 L696.46,258.27 L697.37,258.04 L698.28,258.67 L699.18,258.59 L700.09,258.04 L701.00,258.68 L701.00,270.02 L700.09,269.54 L699.18,269.62 L698.28,270.03 L697.37,269.59 L696.46,269.77 L695.56,270.16 L694.65,270.00 L693.74,270.09 L692.83,270.47 L691.92,270.38 L691.02,270.16 L690.11,270.37 L689.20,270.31 L688.30,270.41 L687.39,270.05 L686.48,270.73 L685.57,270.22 L684.66,270.37 L683.76,269.95 L682.85,270.38 L681.94,270.27 L681.04,270.08 L680.13,270.31 L679.22,270.01 L678.31,270.16 L677.40,270.48 L676.50,270.23 L675.59,270.24 L674.68,270.07 L673.78,270.51 L672.87,270.23 L671.96,270.01 L671.05,269.83 L670.14,270.01 L669.24,270.04 L668.33,270.19 L667.42,270.21 L666.51,269.82 L665.61,270.45 L664.70,270.43 L663.79,270.29 L662.88,270.14 L661.98,269.95 L661.07,269.87 L660.16,270.11 L659.25,270.36 L658.35,270.07 L657.44,270.64 L656.53,270.65 L655.62,271.08 L654.72,271.19 L653.81,271.40 L652.90,271.17 L652.00,272.21 L651.09,272.48 L650.18,271.25 L649.27,272.85 L648.37,272.80 L647.46,273.49 L646.55,273.80 L645.64,273.88 L644.74,274.35 L643.83,274.49 L642.92,274.52 L642.01,275.41 L641.11,275.20 L640.20,275.94 L639.29,276.11 L638.38,276.44 L637.48,276.77 L636.57,276.92 L635.66,277.43 L634.75,277.20 L633.85,277.39 L632.94,277.59 L632.03,278.26 L631.12,278.62 L630.22,278.63 L629.31,279.44 L628.40,279.32 L627.49,279.53 L626.59,279.72 L625.68,279.87 L624.77,279.32 L623.86,280.31 L622.96,280.43 L622.05,280.87 L621.14,281.03 L620.23,280.44 L619.33,281.26 L618.42,281.38 L617.51,281.65 L616.60,281.49 L615.70,281.39 L614.79,282.04 L613.88,281.62 L612.97,281.63 L612.07,282.86 L611.16,281.94 L610.25,282.82 L609.34,283.04 L608.44,282.76 L607.53,283.24 L606.62,283.31 L605.71,283.10 L604.81,283.34 L603.90,283.70 L602.99,283.04 L602.08,283.52 L601.17,284.14 L600.27,284.32 L599.36,283.89 L598.45,284.39 L597.55,284.42 L596.64,284.20 L595.73,284.62 L594.82,285.13 L593.91,284.42 L593.01,284.37 L592.10,284.08 L591.19,284.60 L590.29,284.87 L589.38,284.44 L588.47,285.10 L587.56,284.64 L586.65,285.04 L585.75,285.55 L584.84,285.21 L583.93,285.82 L583.02,285.28 L582.12,285.67 L581.21,285.55 L580.30,286.18 L579.39,285.50 L578.49,286.06 L577.58,286.25 L576.67,286.12 L575.76,285.86 L574.86,285.95 L573.95,286.45 L573.04,286.23 L572.13,286.20 L571.23,286.25 L570.32,286.18 L569.41,286.53 L568.50,286.33 L567.60,286.69 L566.69,286.48 L565.78,286.60 L564.88,286.39 L563.97,286.42 L563.06,286.94 L562.15,286.04 L561.25,286.58 L560.34,286.26 L559.43,286.42 L558.52,286.34 L557.62,286.51 L556.71,286.63 L555.80,286.79 L554.89,286.46 L553.99,286.78 L553.08,286.04 L552.17,286.86 L551.26,286.29 L550.36,286.40 L549.45,286.50 L548.54,286.49 L547.63,286.45 L546.73,286.17 L545.82,286.11 L544.91,286.21 L544.00,286.12 L543.10,286.11 L542.19,285.68 L541.28,286.07 L540.37,286.05 L539.47,285.66 L538.56,285.51 L537.65,285.55 L536.74,285.72 L535.84,285.41 L534.93,285.16 L534.02,285.22 L533.11,285.82 L532.21,285.26 L531.30,285.64 L530.39,284.80 L529.48,284.68 L528.58,284.64 L527.67,284.58 L526.76,284.75 L525.85,284.56 L524.95,284.17 L524.04,284.46 L523.13,283.43 L522.22,283.64 L521.32,284.00 L520.41,283.58 L519.50,283.99 L518.59,283.46 L517.69,283.82 L516.78,284.22 L515.87,283.67 L514.96,283.68 L514.06,284.16 L513.15,283.18 L512.24,284.52 L511.33,284.08 L510.43,284.50 L509.52,283.99 L508.61,284.81 L507.70,285.21 L506.80,284.85 L505.89,285.02 L504.98,285.37 L504.07,285.30 L503.17,285.62 L502.26,286.08 L501.35,286.39 L500.44,286.14 L499.54,286.27 L498.63,286.61 L497.72,286.84 L496.81,287.05 L495.91,286.72 L495.00,287.49 L494.09,287.33 L493.18,287.33 L492.28,288.18 L491.37,288.60 L490.46,288.05 L489.55,288.81 L488.65,288.64 L487.74,288.69 L486.83,289.67 L485.92,289.26 L485.01,289.71 L484.11,289.86 L483.20,290.02 L482.29,290.48 L481.38,290.30 L480.48,290.71 L479.57,291.43 L478.66,291.11 L477.75,291.84 L476.85,291.77 L475.94,292.92 L475.03,292.87 L474.12,293.15 L473.22,294.08 L472.31,294.34 L471.40,295.19 L470.50,294.57 L469.59,295.04 L468.68,295.68 L467.77,296.08 L466.87,296.65 L465.96,297.53 L465.05,297.78 L464.14,298.50 L463.24,298.40 L462.33,299.67 L461.42,300.00 L460.51,300.26 L459.61,300.67 L458.70,301.55 L457.79,301.86 L456.88,302.43 L455.98,302.45 L455.07,303.71 L454.16,303.50 L453.25,304.19 L452.35,304.61 L451.44,305.15 L450.53,305.47 L449.62,306.51 L448.72,306.38 L447.81,307.56 L446.90,307.51 L445.99,308.34 L445.09,309.19 L444.18,309.84 L443.27,309.67 L442.36,310.46 L441.46,311.02 L440.55,312.59 L439.64,312.41 L438.73,313.79 L437.83,314.19 L436.92,314.80 L436.01,315.11 L435.10,316.18 L434.20,316.72 L433.29,317.77 L432.38,317.64 L431.47,319.27 L430.56,319.49 L429.66,320.36 L428.75,320.63 L427.84,321.65 L426.94,322.72 L426.03,323.24 L425.12,324.20 L424.21,324.53 L423.31,325.25 L422.40,326.68 L421.49,327.20 L420.58,328.27 L419.68,328.47 L418.77,329.66 L417.86,330.74 L416.95,331.59 L416.05,332.39 L415.14,334.03 L414.23,334.67 L413.32,336.28 L412.42,337.16 L411.51,338.60 L410.60,339.92Z" fill="#9a00a8" fill-opacity="0.25" stroke="none"/>
<path d="M410.60,347.88 L411.40,347.01 L412.27,346.07 L413.14,345.11 L414.01,344.16 L414.45,343.68M416.12,341.82 L416.99,340.84 L417.86,339.86 L418.73,338.88 L419.60,337.89 L419.90,337.55M421.55,335.67 L422.36,334.74 L423.24,333.75 L424.11,332.75 L424.98,331.76 L425.31,331.39M426.96,329.51 L427.81,328.54 L428.68,327.56 L429.55,326.59 L430.42,325.62 L430.76,325.26M432.45,323.42 L433.26,322.56 L434.13,321.64 L435.00,320.74 L435.87,319.85 L436.40,319.31M438.18,317.56 L438.99,316.79 L439.87,315.96 L440.74,315.16 L441.61,314.37 L442.37,313.70M444.25,312.07 L445.09,311.36 L445.97,310.65 L446.84,309.95 L447.71,309.27 L448.58,308.59 L448.68,308.51M450.66,307.04 L451.48,306.45 L452.36,305.83 L453.23,305.24 L454.10,304.65 L454.97,304.08 L455.33,303.84M457.39,302.55 L458.24,302.04 L459.11,301.53 L459.98,301.03 L460.85,300.54 L461.72,300.06 L462.29,299.76M464.44,298.66 L465.28,298.24 L466.15,297.82 L467.02,297.41 L467.90,297.01 L468.77,296.61 L469.53,296.28M471.72,295.35 L472.54,295.02 L473.41,294.67 L474.29,294.34 L475.16,294.01 L476.03,293.69 L476.90,293.38 L476.95,293.37M479.18,292.61 L480.02,292.33 L480.89,292.06 L481.77,291.78 L482.64,291.52 L483.51,291.26 L484.38,291.00 L484.51,290.96M486.74,290.33 L487.58,290.10 L488.45,289.87 L489.32,289.64 L490.19,289.42 L491.06,289.20 L491.93,288.99 L492.14,288.94M494.38,288.42 L495.20,288.25 L496.07,288.06 L496.94,287.88 L497.81,287.70 L498.69,287.52 L499.56,287.35 L499.82,287.30M502.06,286.87 L502.90,286.71 L503.77,286.54 L504.64,286.38 L505.51,286.21 L506.38,286.04 L507.25,285.87 L507.51,285.82M509.74,285.37 L510.60,285.20 L511.47,285.01 L512.34,284.83 L513.21,284.64 L514.08,284.46 L514.95,284.27 L515.17,284.22M517.39,283.72 L518.22,283.53 L519.09,283.34 L519.96,283.13 L520.83,282.93 L521.71,282.72 L522.58,282.51 L522.80,282.46M525.02,281.91 L525.85,281.69 L526.72,281.47 L527.59,281.23 L528.46,280.99 L529.33,280.75 L530.20,280.50 L530.39,280.45M532.59,279.81 L533.40,279.58 L534.27,279.32 L535.14,279.07 L536.01,278.82 L536.88,278.57 L537.75,278.33 L537.95,278.28M540.19,277.69 L541.02,277.48 L541.89,277.27 L542.77,277.06 L543.64,276.86 L544.51,276.67 L545.38,276.48 L545.60,276.43M547.85,275.96 L548.72,275.79 L549.59,275.61 L550.46,275.44 L551.33,275.27 L552.21,275.11 L553.08,274.94 L553.30,274.90M555.54,274.49 L556.34,274.34 L557.22,274.19 L558.09,274.03 L558.96,273.88 L559.83,273.72 L560.70,273.57 L561.00,273.52M563.23,273.13 L564.04,272.99 L564.91,272.85 L565.78,272.70 L566.66,272.56 L567.53,272.42 L568.40,272.28 L568.70,272.23M570.94,271.90 L571.81,271.77 L572.68,271.65 L573.56,271.53 L574.43,271.42 L575.30,271.31 L576.17,271.20 L576.43,271.17M578.67,270.92 L579.51,270.83 L580.38,270.74 L581.25,270.65 L582.12,270.57 L583.00,270.49 L583.87,270.41 L584.17,270.38M586.41,270.18 L587.21,270.12 L588.08,270.04 L588.95,269.97 L589.82,269.90 L590.69,269.83 L591.56,269.76 L591.91,269.73M594.13,269.55 L594.98,269.48 L595.85,269.41 L596.72,269.34 L597.59,269.26 L598.46,269.19 L599.33,269.11 L599.64,269.08M601.86,268.88 L602.68,268.80 L603.55,268.72 L604.42,268.63 L605.29,268.54 L606.16,268.45 L607.03,268.36 L607.35,268.33M609.58,268.09 L610.45,268.00 L611.32,267.90 L612.19,267.80 L613.06,267.71 L613.93,267.61 L614.80,267.51 L615.07,267.48M617.30,267.22 L618.14,267.12 L619.01,267.02 L619.89,266.92 L620.76,266.82 L621.63,266.71 L622.50,266.61 L622.79,266.57M625.02,266.30 L625.84,266.20 L626.71,266.10 L627.58,265.99 L628.45,265.88 L629.33,265.78 L630.20,265.67 L630.51,265.63M632.74,265.36 L633.54,265.26 L634.41,265.15 L635.28,265.04 L636.15,264.93 L637.02,264.83 L637.89,264.72 L638.22,264.68M640.45,264.39 L641.31,264.29 L642.18,264.18 L643.05,264.06 L643.92,263.95 L644.79,263.84 L645.66,263.73 L645.94,263.69M648.17,263.39 L649.01,263.28 L649.88,263.16 L650.75,263.04 L651.62,262.92 L652.49,262.80 L653.36,262.68 L653.65,262.64M655.88,262.32 L656.70,262.20 L657.57,262.07 L658.45,261.95 L659.32,261.82 L660.19,261.68 L661.06,261.55 L661.36,261.51M663.58,261.16 L664.40,261.03 L665.27,260.89 L666.14,260.75 L667.01,260.60 L667.89,260.44 L668.76,260.29 L669.05,260.23M671.26,259.80 L672.10,259.62 L672.97,259.42 L673.84,259.23 L674.71,259.01 L675.58,258.79 L676.46,258.55 L676.66,258.49M678.84,257.86 L679.65,257.60 L680.52,257.32 L681.39,257.03 L682.26,256.74 L683.14,256.43 L684.01,256.12 L684.13,256.08M686.30,255.28 L687.13,254.96 L688.00,254.63 L688.87,254.28 L689.74,253.94 L690.62,253.58 L691.49,253.22 L691.49,253.22M693.64,252.30 L694.46,251.94 L695.34,251.55 L696.21,251.16 L697.08,250.76 L697.95,250.35 L698.74,249.98M700.87,248.97 L701.00,248.90" stroke="#7f7f7f" stroke-width="2.0"/>
<path d="M410.60,268.14 L412.42,268.18 L414.23,268.22 L416.05,268.26 L417.86,268.30 L419.68,268.34 L421.49,268.38 L423.31,268.43 L425.12,268.47 L426.94,268.51 L428.75,268.56 L430.56,268.60 L432.38,268.64 L434.20,268.69 L436.01,268.73 L437.83,268.78 L439.64,268.82 L441.46,268.87 L443.27,268.91 L445.09,268.96 L446.90,269.01 L448.72,269.05 L450.53,269.11 L452.35,269.16 L454.16,269.21 L455.98,269.27 L457.79,269.32 L459.61,269.38 L461.42,269.43 L463.24,269.49 L465.05,269.54 L466.87,269.59 L468.68,269.64 L470.50,269.69 L472.31,269.74 L474.12,269.78 L475.94,269.81 L477.75,269.85 L479.57,269.88 L481.38,269.91 L483.20,269.93 L485.01,269.96 L486.83,269.98 L488.65,270.01 L490.46,270.03 L492.28,270.05 L494.09,270.08 L495.91,270.09 L497.72,270.11 L499.54,270.12 L501.35,270.14 L503.17,270.14 L504.98,270.15 L506.80,270.16 L508.61,270.16 L510.43,270.16 L512.24,270.16 L514.06,270.16 L515.87,270.16 L517.69,270.16 L519.50,270.16 L521.32,270.16 L523.13,270.16 L524.95,270.16 L526.76,270.16 L528.58,270.16 L530.39,270.16 L532.21,270.16 L534.02,270.16 L535.84,270.16 L537.65,270.16 L539.47,270.15 L541.28,270.14 L543.10,270.12 L544.91,270.09 L546.73,270.05 L548.54,270.00 L550.36,269.95 L552.17,269.89 L553.99,269.82 L555.80,269.76 L557.62,269.70 L559.43,269.64 L561.25,269.58 L563.06,269.54 L564.88,269.50 L566.69,269.47 L568.50,269.46 L570.32,269.45 L572.13,269.46 L573.95,269.47 L575.76,269.48 L577.58,269.50 L579.39,269.52 L581.21,269.55 L583.02,269.58 L584.84,269.62 L586.65,269.66 L588.47,269.71 L590.29,269.78 L592.10,269.86 L593.91,269.97 L595.73,270.10 L597.55,270.24 L599.36,270.40 L601.17,270.57 L602.99,270.74 L604.81,270.93 L606.62,271.12 L608.44,271.31 L610.25,271.52 L612.07,271.75 L613.88,271.99 L615.70,272.25 L617.51,272.54 L619.33,272.85 L621.14,273.19 L622.96,273.56 L624.77,273.94 L626.59,274.34 L628.40,274.73 L630.22,275.11 L632.03,275.49 L633.85,275.85 L635.66,276.21 L637.48,276.56 L639.29,276.89 L641.11,277.20 L642.92,277.50 L644.74,277.77 L646.55,278.02 L648.37,278.26 L650.18,278.47 L652.00,278.67 L653.81,278.85 L655.62,278.99 L657.44,279.11 L659.25,279.20 L661.07,279.26 L662.88,279.30 L664.70,279.33 L666.51,279.35 L668.33,279.37 L670.14,279.39 L671.96,279.39 L673.78,279.40 L675.59,279.40 L677.40,279.39 L679.22,279.38 L681.04,279.37 L682.85,279.36 L684.66,279.33 L686.48,279.31 L688.30,279.28 L690.11,279.25 L691.92,279.21 L693.74,279.17 L695.56,279.13 L697.37,279.08 L699.18,279.03 L701.00,278.97" stroke="#e10000" stroke-width="2.1"/>
<path d="M410.60,322.18 L411.51,321.44 L412.42,321.03 L413.32,321.00 L414.23,320.21 L415.14,319.87 L416.05,318.77 L416.95,318.64 L417.86,318.03 L418.77,317.10 L419.68,316.75 L420.58,316.56 L421.49,316.39 L422.40,315.75 L423.31,315.59 L424.21,314.29 L425.12,314.37 L426.03,313.69 L426.94,313.38 L427.84,313.17 L428.75,312.38 L429.66,311.84 L430.56,311.41 L431.47,310.83 L432.38,310.13 L433.29,309.88 L434.20,309.02 L435.10,308.47 L436.01,307.90 L436.92,306.98 L437.83,306.95 L438.73,306.04 L439.64,305.03 L440.55,303.86 L441.46,303.45 L442.36,303.14 L443.27,301.86 L444.18,301.57 L445.09,301.16 L445.99,300.38 L446.90,299.31 L447.81,298.91 L448.72,298.76 L449.62,298.29 L450.53,297.28 L451.44,297.23 L452.35,296.51 L453.25,295.66 L454.16,295.65 L455.07,295.08 L455.98,294.30 L456.88,293.96 L457.79,293.04 L458.70,292.94 L459.61,292.31 L460.51,291.84 L461.42,291.73 L462.33,290.89 L463.24,290.31 L464.14,290.29 L465.05,289.96 L465.96,289.45 L466.87,288.56 L467.77,288.55 L468.68,288.28 L469.59,288.11 L470.50,287.40 L471.40,287.41 L472.31,286.45 L473.22,286.61 L474.12,286.45 L475.03,285.55 L475.94,285.47 L476.85,285.19 L477.75,285.36 L478.66,284.68 L479.57,284.61 L480.48,284.47 L481.38,284.09 L482.29,283.88 L483.20,284.04 L484.11,283.43 L485.01,283.58 L485.92,283.61 L486.83,283.28 L487.74,283.26 L488.65,282.77 L489.55,283.01 L490.46,283.01 L491.37,282.86 L492.28,282.53 L493.18,283.09 L494.09,282.92 L495.00,282.53 L495.91,282.23 L496.81,282.09 L497.72,282.26 L498.63,282.52 L499.54,282.58 L500.44,281.94 L501.35,281.91 L502.26,281.61 L503.17,281.30 L504.07,281.70 L504.98,280.95 L505.89,281.33 L506.80,281.13 L507.70,280.90 L508.61,281.34 L509.52,280.02 L510.43,280.64 L511.33,280.13 L512.24,280.52 L513.15,280.68 L514.06,280.45 L514.96,280.40 L515.87,280.57 L516.78,280.71 L517.69,279.78 L518.59,280.17 L519.50,279.94 L520.41,279.65 L521.32,280.17 L522.22,280.05 L523.13,279.81 L524.04,280.03 L524.95,280.12 L525.85,280.50 L526.76,280.55 L527.67,280.14 L528.58,280.47 L529.48,280.20 L530.39,280.31 L531.30,280.45 L532.21,280.43 L533.11,280.61 L534.02,280.40 L534.93,281.38 L535.84,281.05 L536.74,280.81 L537.65,280.49 L538.56,281.48 L539.47,281.22 L540.37,281.01 L541.28,280.82 L542.19,281.36 L543.10,281.86 L544.00,281.24 L544.91,281.16 L545.82,281.29 L546.73,281.33 L547.63,281.31 L548.54,281.71 L549.45,281.36 L550.36,281.30 L551.26,281.54 L552.17,281.78 L553.08,281.71 L553.99,281.34 L554.89,281.71 L555.80,281.16 L556.71,281.44 L557.62,281.55 L558.52,281.22 L559.43,281.44 L560.34,280.81 L561.25,280.98 L562.15,281.55 L563.06,281.42 L563.97,281.85 L564.88,281.03 L565.78,281.09 L566.69,281.12 L567.60,281.52 L568.50,280.64 L569.41,280.67 L570.32,281.08 L571.23,281.07 L572.13,280.96 L573.04,280.52 L573.95,280.56 L574.86,280.60 L575.76,280.55 L576.67,280.77 L577.58,280.46 L578.49,280.67 L579.39,279.80 L580.30,279.99 L581.21,279.87 L582.12,279.88 L583.02,279.93 L583.93,280.12 L584.84,279.67 L585.75,279.47 L586.65,279.33 L587.56,278.85 L588.47,278.72 L589.38,279.14 L590.29,278.99 L591.19,278.34 L592.10,279.12 L593.01,278.45 L593.91,278.03 L594.82,278.08 L595.73,278.12 L596.64,277.68 L597.55,277.90 L598.45,277.84 L599.36,277.41 L600.27,277.38 L601.17,277.06 L602.08,276.76 L602.99,276.58 L603.90,277.52 L604.81,276.62 L605.71,276.43 L606.62,276.22 L607.53,276.42 L608.44,276.29 L609.34,275.97 L610.25,276.16 L611.16,276.27 L612.07,275.47 L612.97,275.33 L613.88,275.71 L614.79,274.92 L615.70,275.32 L616.60,274.80 L617.51,275.10 L618.42,274.57 L619.33,274.59 L620.23,274.35 L621.14,273.91 L622.05,273.63 L622.96,273.87 L623.86,272.95 L624.77,273.39 L625.68,273.37 L626.59,272.77 L627.49,271.90 L628.40,272.31 L629.31,272.29 L630.22,271.82 L631.12,271.24 L632.03,270.87 L632.94,270.58 L633.85,270.07 L634.75,269.45 L635.66,269.62 L636.57,269.15 L637.48,268.87 L638.38,268.38 L639.29,267.76 L640.20,267.61 L641.11,267.63 L642.01,266.74 L642.92,266.23 L643.83,266.29 L644.74,265.53 L645.64,265.52 L646.55,266.00 L647.46,265.52 L648.37,265.53 L649.27,265.21 L650.18,265.17 L651.09,264.75 L652.00,264.52 L652.90,265.16 L653.81,264.28 L654.72,264.45 L655.62,264.04 L656.53,264.32 L657.44,264.79 L658.35,264.09 L659.25,263.86 L660.16,263.76 L661.07,263.79 L661.98,263.97 L662.88,263.83 L663.79,263.70 L664.70,263.65 L665.61,263.24 L666.51,263.03 L667.42,262.80 L668.33,262.80 L669.24,262.82 L670.14,262.49 L671.05,262.53 L671.96,262.67 L672.87,261.99 L673.78,262.10 L674.68,261.94 L675.59,261.40 L676.50,261.40 L677.40,261.17 L678.31,260.59 L679.22,260.60 L680.13,260.47 L681.04,260.46 L681.94,260.85 L682.85,260.76 L683.76,260.13 L684.66,259.01 L685.57,259.53 L686.48,259.45 L687.39,259.01 L688.30,258.71 L689.20,258.80 L690.11,258.64 L691.02,258.60 L691.92,258.73 L692.83,258.71 L693.74,259.13 L694.65,258.45 L695.56,258.40 L696.46,258.27 L697.37,258.04 L698.28,258.67 L699.18,258.59 L700.09,258.04 L701.00,258.68" stroke="#9a00a8" stroke-width="1.2"/>
<path d="M410.60,339.92 L411.51,338.60 L412.42,337.16 L413.32,336.28 L414.23,334.67 L415.14,334.03 L416.05,332.39 L416.95,331.59 L417.86,330.74 L418.77,329.66 L419.68,328.47 L420.58,328.27 L421.49,327.20 L422.40,326.68 L423.31,325.25 L424.21,324.53 L425.12,324.20 L426.03,323.24 L426.94,322.72 L427.84,321.65 L428.75,320.63 L429.66,320.36 L430.56,319.49 L431.47,319.27 L432.38,317.64 L433.29,317.77 L434.20,316.72 L435.10,316.18 L436.01,315.11 L436.92,314.80 L437.83,314.19 L438.73,313.79 L439.64,312.41 L440.55,312.59 L441.46,311.02 L442.36,310.46 L443.27,309.67 L444.18,309.84 L445.09,309.19 L445.99,308.34 L446.90,307.51 L447.81,307.56 L448.72,306.38 L449.62,306.51 L450.53,305.47 L451.44,305.15 L452.35,304.61 L453.25,304.19 L454.16,303.50 L455.07,303.71 L455.98,302.45 L456.88,302.43 L457.79,301.86 L458.70,301.55 L459.61,300.67 L460.51,300.26 L461.42,300.00 L462.33,299.67 L463.24,298.40 L464.14,298.50 L465.05,297.78 L465.96,297.53 L466.87,296.65 L467.77,296.08 L468.68,295.68 L469.59,295.04 L470.50,294.57 L471.40,295.19 L472.31,294.34 L473.22,294.08 L474.12,293.15 L475.03,292.87 L475.94,292.92 L476.85,291.77 L477.75,291.84 L478.66,291.11 L479.57,291.43 L480.48,290.71 L481.38,290.30 L482.29,290.48 L483.20,290.02 L484.11,289.86 L485.01,289.71 L485.92,289.26 L486.83,289.67 L487.74,288.69 L488.65,288.64 L489.55,288.81 L490.46,288.05 L491.37,288.60 L492.28,288.18 L493.18,287.33 L494.09,287.33 L495.00,287.49 L495.91,286.72 L496.81,287.05 L497.72,286.84 L498.63,286.61 L499.54,286.27 L500.44,286.14 L501.35,286.39 L502.26,286.08 L503.17,285.62 L504.07,285.30 L504.98,285.37 L505.89,285.02 L506.80,284.85 L507.70,285.21 L508.61,284.81 L509.52,283.99 L510.43,284.50 L511.33,284.08 L512.24,284.52 L513.15,283.18 L514.06,284.16 L514.96,283.68 L515.87,283.67 L516.78,284.22 L517.69,283.82 L518.59,283.46 L519.50,283.99 L520.41,283.58 L521.32,284.00 L522.22,283.64 L523.13,283.43 L524.04,284.46 L524.95,284.17 L525.85,284.56 L526.76,284.75 L527.67,284.58 L528.58,284.64 L529.48,284.68 L530.39,284.80 L531.30,285.64 L532.21,285.26 L533.11,285.82 L534.02,285.22 L534.93,285.16 L535.84,285.41 L536.74,285.72 L537.65,285.55 L538.56,285.51 L539.47,285.66 L540.37,286.05 L541.28,286.07 L542.19,285.68 L543.10,286.11 L544.00,286.12 L544.91,286.21 L545.82,286.11 L546.73,286.17 L547.63,286.45 L548.54,286.49 L549.45,286.50 L550.36,286.40 L551.26,286.29 L552.17,286.86 L553.08,286.04 L553.99,286.78 L554.89,286.46 L555.80,286.79 L556.71,286.63 L557.62,286.51 L558.52,286.34 L559.43,286.42 L560.34,286.26 L561.25,286.58 L562.15,286.04 L563.06,286.94 L563.97,286.42 L564.88,286.39 L565.78,286.60 L566.69,286.48 L567.60,286.69 L568.50,286.33 L569.41,286.53 L570.32,286.18 L571.23,286.25 L572.13,286.20 L573.04,286.23 L573.95,286.45 L574.86,285.95 L575.76,285.86 L576.67,286.12 L577.58,286.25 L578.49,286.06 L579.39,285.50 L580.30,286.18 L581.21,285.55 L582.12,285.67 L583.02,285.28 L583.93,285.82 L584.84,285.21 L585.75,285.55 L586.65,285.04 L587.56,284.64 L588.47,285.10 L589.38,284.44 L590.29,284.87 L591.19,284.60 L592.10,284.08 L593.01,284.37 L593.91,284.42 L594.82,285.13 L595.73,284.62 L596.64,284.20 L597.55,284.42 L598.45,284.39 L599.36,283.89 L600.27,284.32 L601.17,284.14 L602.08,283.52 L602.99,283.04 L603.90,283.70 L604.81,283.34 L605.71,283.10 L606.62,283.31 L607.53,283.24 L608.44,282.76 L609.34,283.04 L610.25,282.82 L611.16,281.94 L612.07,282.86 L612.97,281.63 L613.88,281.62 L614.79,282.04 L615.70,281.39 L616.60,281.49 L617.51,281.65 L618.42,281.38 L619.33,281.26 L620.23,280.44 L621.14,281.03 L622.05,280.87 L622.96,280.43 L623.86,280.31 L624.77,279.32 L625.68,279.87 L626.59,279.72 L627.49,279.53 L628.40,279.32 L629.31,279.44 L630.22,278.63 L631.12,278.62 L632.03,278.26 L632.94,277.59 L633.85,277.39 L634.75,277.20 L635.66,277.43 L636.57,276.92 L637.48,276.77 L638.38,276.44 L639.29,276.11 L640.20,275.94 L641.11,275.20 L642.01,275.41 L642.92,274.52 L643.83,274.49 L644.74,274.35 L645.64,273.88 L646.55,273.80 L647.46,273.49 L648.37,272.80 L649.27,272.85 L650.18,271.25 L651.09,272.48 L652.00,272.21 L652.90,271.17 L653.81,271.40 L654.72,271.19 L655.62,271.08 L656.53,270.65 L657.44,270.64 L658.35,270.07 L659.25,270.36 L660.16,270.11 L661.07,269.87 L661.98,269.95 L662.88,270.14 L663.79,270.29 L664.70,270.43 L665.61,270.45 L666.51,269.82 L667.42,270.21 L668.33,270.19 L669.24,270.04 L670.14,270.01 L671.05,269.83 L671.96,270.01 L672.87,270.23 L673.78,270.51 L674.68,270.07 L675.59,270.24 L676.50,270.23 L677.40,270.48 L678.31,270.16 L679.22,270.01 L680.13,270.31 L681.04,270.08 L681.94,270.27 L682.85,270.38 L683.76,269.95 L684.66,270.37 L685.57,270.22 L686.48,270.73 L687.39,270.05 L688.30,270.41 L689.20,270.31 L690.11,270.37 L691.02,270.16 L691.92,270.38 L692.83,270.47 L693.74,270.09 L694.65,270.00 L695.56,270.16 L696.46,269.77 L697.37,269.59 L698.28,270.03 L699.18,269.62 L700.09,269.54 L701.00,270.02" stroke="#9a00a8" stroke-width="1.2"/>
<path d="M410.60,331.25 L411.51,330.60 L412.42,329.23 L413.32,328.73 L414.23,327.94 L415.14,327.02 L416.05,326.12 L416.95,325.56 L417.86,324.67 L418.77,324.01 L419.68,322.95 L420.58,323.01 L421.49,322.28 L422.40,321.69 L423.31,320.84 L424.21,320.45 L425.12,319.58 L426.03,319.38 L426.94,318.31 L427.84,317.77 L428.75,316.98 L429.66,316.48 L430.56,315.93 L431.47,315.25 L432.38,314.97 L433.29,314.04 L434.20,313.30 L435.10,312.37 L436.01,311.96 L436.92,311.53 L437.83,310.25 L438.73,310.05 L439.64,309.20 L440.55,308.68 L441.46,308.39 L442.36,307.03 L443.27,306.56 L444.18,305.70 L445.09,305.27 L445.99,304.44 L446.90,303.66 L447.81,303.20 L448.72,302.72 L449.62,302.20 L450.53,301.54 L451.44,301.18 L452.35,300.40 L453.25,299.77 L454.16,299.57 L455.07,299.01 L455.98,298.01 L456.88,297.79 L457.79,297.00 L458.70,296.70 L459.61,296.19 L460.51,295.80 L461.42,295.09 L462.33,294.67 L463.24,294.44 L464.14,294.28 L465.05,293.73 L465.96,293.11 L466.87,292.81 L467.77,292.14 L468.68,291.75 L469.59,291.34 L470.50,290.94 L471.40,290.62 L472.31,290.22 L473.22,289.91 L474.12,289.77 L475.03,289.29 L475.94,288.98 L476.85,288.53 L477.75,288.46 L478.66,288.27 L479.57,287.56 L480.48,287.49 L481.38,287.20 L482.29,286.88 L483.20,286.96 L484.11,286.53 L485.01,286.46 L485.92,286.47 L486.83,286.07 L487.74,285.89 L488.65,285.66 L489.55,285.63 L490.46,285.47 L491.37,285.45 L492.28,285.00 L493.18,285.31 L494.09,284.86 L495.00,284.81 L495.91,284.68 L496.81,284.44 L497.72,284.42 L498.63,284.52 L499.54,284.45 L500.44,284.29 L501.35,284.00 L502.26,283.80 L503.17,283.67 L504.07,283.48 L504.98,283.31 L505.89,283.26 L506.80,283.28 L507.70,282.98 L508.61,282.86 L509.52,282.35 L510.43,282.32 L511.33,282.49 L512.24,282.26 L513.15,281.93 L514.06,282.01 L514.96,281.81 L515.87,281.89 L516.78,281.85 L517.69,281.78 L518.59,281.98 L519.50,282.01 L520.41,281.98 L521.32,281.80 L522.22,281.97 L523.13,282.29 L524.04,281.99 L524.95,282.15 L525.85,282.16 L526.76,282.35 L527.67,282.47 L528.58,282.87 L529.48,282.60 L530.39,283.00 L531.30,282.83 L532.21,282.59 L533.11,282.91 L534.02,282.96 L534.93,283.17 L535.84,283.10 L536.74,283.42 L537.65,283.32 L538.56,283.29 L539.47,283.44 L540.37,283.63 L541.28,283.88 L542.19,283.66 L543.10,283.75 L544.00,283.75 L544.91,283.63 L545.82,284.03 L546.73,283.66 L547.63,284.03 L548.54,283.44 L549.45,283.64 L550.36,283.76 L551.26,284.00 L552.17,283.84 L553.08,283.84 L553.99,283.96 L554.89,283.95 L555.80,283.68 L556.71,283.82 L557.62,283.53 L558.52,283.62 L559.43,283.81 L560.34,283.68 L561.25,283.74 L562.15,283.94 L563.06,283.63 L563.97,283.82 L564.88,283.45 L565.78,283.48 L566.69,283.99 L567.60,283.56 L568.50,283.70 L569.41,283.23 L570.32,283.46 L571.23,283.35 L572.13,283.24 L573.04,283.42 L573.95,283.18 L574.86,282.92 L575.76,283.15 L576.67,282.87 L577.58,282.92 L578.49,282.44 L579.39,282.39 L580.30,282.62 L581.21,282.56 L582.12,282.35 L583.02,282.36 L583.93,282.27 L584.84,282.25 L585.75,281.80 L586.65,281.62 L587.56,281.80 L588.47,282.05 L589.38,281.92 L590.29,281.53 L591.19,281.67 L592.10,281.51 L593.01,281.30 L593.91,281.29 L594.82,280.93 L595.73,281.23 L596.64,280.90 L597.55,281.00 L598.45,280.67 L599.36,280.89 L600.27,280.56 L601.17,280.19 L602.08,280.37 L602.99,280.09 L603.90,280.10 L604.81,279.87 L605.71,279.83 L606.62,279.56 L607.53,279.69 L608.44,279.43 L609.34,279.14 L610.25,279.24 L611.16,278.87 L612.07,278.70 L612.97,278.66 L613.88,278.88 L614.79,278.13 L615.70,278.44 L616.60,278.08 L617.51,277.85 L618.42,277.49 L619.33,277.56 L620.23,277.53 L621.14,277.11 L622.05,276.76 L622.96,276.98 L623.86,276.52 L624.77,276.42 L625.68,276.17 L626.59,276.02 L627.49,275.70 L628.40,275.42 L629.31,274.89 L630.22,275.33 L631.12,274.50 L632.03,274.48 L632.94,274.38 L633.85,274.16 L634.75,273.40 L635.66,273.57 L636.57,272.68 L637.48,272.87 L638.38,272.24 L639.29,272.12 L640.20,271.85 L641.11,271.40 L642.01,270.66 L642.92,270.62 L643.83,270.30 L644.74,269.90 L645.64,269.58 L646.55,269.66 L647.46,269.19 L648.37,269.01 L649.27,268.86 L650.18,268.93 L651.09,268.23 L652.00,268.07 L652.90,268.10 L653.81,267.27 L654.72,267.89 L655.62,267.59 L656.53,267.37 L657.44,267.42 L658.35,267.20 L659.25,266.85 L660.16,267.18 L661.07,267.26 L661.98,266.97 L662.88,266.97 L663.79,266.84 L664.70,266.83 L665.61,266.68 L666.51,266.26 L667.42,266.58 L668.33,266.20 L669.24,266.52 L670.14,266.55 L671.05,266.74 L671.96,266.33 L672.87,266.22 L673.78,265.82 L674.68,266.46 L675.59,266.21 L676.50,266.07 L677.40,265.95 L678.31,265.83 L679.22,265.85 L680.13,265.62 L681.04,265.65 L681.94,265.54 L682.85,265.23 L683.76,264.97 L684.66,265.16 L685.57,265.25 L686.48,264.94 L687.39,264.77 L688.30,264.70 L689.20,264.42 L690.11,264.72 L691.02,264.54 L691.92,264.54 L692.83,264.11 L693.74,264.29 L694.65,264.35 L695.56,264.40 L696.46,264.09 L697.37,264.43 L698.28,264.00 L699.18,263.99 L700.09,264.04 L701.00,264.10" stroke="#9a00a8" stroke-width="2.2"/>
</g>
<path d="M446.54,347.90v-7.4M446.54,203.40v7.4M482.97,347.90v-7.4M482.97,203.40v7.4M519.40,347.90v-7.4M519.40,203.40v7.4M555.84,347.90v-7.4M555.84,203.40v7.4M592.28,347.90v-7.4M592.28,203.40v7.4M628.71,347.90v-7.4M628.71,203.40v7.4M665.14,347.90v-7.4M665.14,203.40v7.4M410.60,319.42h7.4M701.00,319.42h-7.4M410.60,290.24h7.4M701.00,290.24h-7.4M410.60,261.06h7.4M701.00,261.06h-7.4M410.60,231.88h7.4M701.00,231.88h-7.4" stroke="#1a1a1a" stroke-width="1" fill="none"/>
<rect x="410.6" y="203.4" width="290.4" height="144.5" fill="none" stroke="#1a1a1a" stroke-width="1.1"/>
<g font-family="Liberation Serif, serif" font-size="16" fill="#111">
<text x="410.00" y="367.00" fill="#111" text-anchor="middle" >0</text>
<text x="482.87" y="367.00" fill="#111" text-anchor="middle" >10</text>
<text x="555.74" y="367.00" fill="#111" text-anchor="middle" >20</text>
<text x="628.61" y="367.00" fill="#111" text-anchor="middle" >30</text>
<text x="701.48" y="367.00" fill="#111" text-anchor="middle" >40</text>
<text x="403.00" y="353.70" fill="#111" text-anchor="end" >0</text>
<text x="403.00" y="324.52" fill="#111" text-anchor="end" >2</text>
<text x="403.00" y="295.34" fill="#111" text-anchor="end" >4</text>
<text x="403.00" y="266.16" fill="#111" text-anchor="end" >6</text>
<text x="403.00" y="236.98" fill="#111" text-anchor="end" >8</text>
<text x="403.00" y="207.80" fill="#111" text-anchor="end" >10</text>
<text x="556.30" y="383.70" fill="#111" text-anchor="middle" textLength="89.5" lengthAdjust="spacingAndGlyphs" >horizon, <tspan font-style="italic">θ</tspan> (s)</text>
<text transform="translate(372.10,357.10) rotate(-90)" textLength="52.6" lengthAdjust="spacingAndGlyphs">velocity</text>
<text transform="translate(372.10,299.10) rotate(-90)" textLength="35.3" lengthAdjust="spacingAndGlyphs">error,</text>
<text transform="translate(372.10,255.90) rotate(-90)" textLength="19.7" lengthAdjust="spacingAndGlyphs">VE</text>
<text transform="translate(372.10,230.30) rotate(-90)" textLength="37.6" lengthAdjust="spacingAndGlyphs">(m/s)</text>
<text x="670.40" y="331.60" fill="#111" text-anchor="start" >(d)</text>
</g>
<g font-family="Liberation Serif, serif" font-size="16">
<text x="644.90" y="295.70" fill="#e10000" text-anchor="start" textLength="44" lengthAdjust="spacingAndGlyphs" >Newell</text>
<text x="464.80" y="316.60" fill="#868686" text-anchor="start" textLength="56" lengthAdjust="spacingAndGlyphs" >constant</text>
<text x="535.30" y="305.10" fill="#9a00a8" text-anchor="start" textLength="93.2" lengthAdjust="spacingAndGlyphs" >ResLSTM-FC</text>
</g>
</svg>
</body></html>
